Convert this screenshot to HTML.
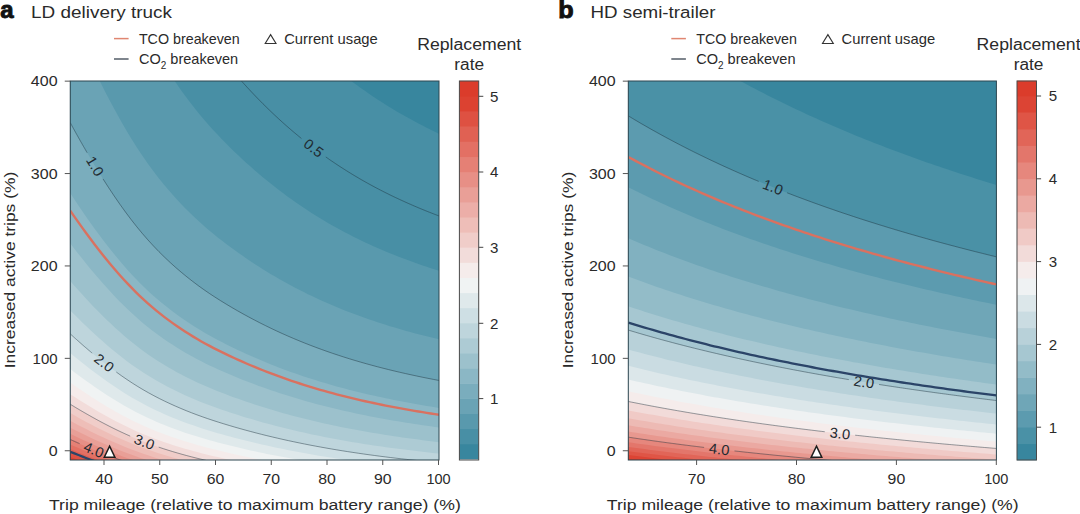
<!DOCTYPE html>
<html lang="en">
<head>
<meta charset="utf-8">
<title>Replacement rate</title>
<style>
html,body{margin:0;padding:0;background:#fff;}
body{width:1080px;height:514px;overflow:hidden;font-family:"Liberation Sans", sans-serif;}
svg{display:block;}
</style>
</head>
<body>
<svg width="1080" height="514" viewBox="0 0 1080 514" font-family='"Liberation Sans", sans-serif' shape-rendering="geometricPrecision">
<rect width="1080" height="514" fill="#fff"/>
<clipPath id="clipa"><rect x="70.25" y="81" width="368.75" height="379"/></clipPath>
<g clip-path="url(#clipa)">
<rect x="69.25" y="80" width="370.75" height="381" fill="#38869e"/>
<path d="M68.25 -510.72 L70.25 -510.72 L74.35 -492.06 L78.44 -473.68 L82.54 -455.61 L86.64 -437.86 L90.74 -420.42 L94.83 -403.33 L98.93 -386.58 L103.03 -370.2 L107.12 -354.19 L111.22 -338.57 L115.32 -323.34 L119.42 -308.53 L123.51 -294.13 L127.61 -280.17 L131.71 -266.66 L135.81 -253.61 L139.9 -241.03 L144 -228.91 L148.1 -217.24 L152.19 -205.99 L156.29 -195.16 L160.39 -184.71 L164.49 -174.64 L168.58 -164.91 L172.68 -155.52 L176.78 -146.45 L180.88 -137.67 L184.97 -129.17 L189.07 -120.94 L193.17 -112.97 L197.26 -105.26 L201.36 -97.79 L205.46 -90.57 L209.56 -83.58 L213.65 -76.81 L217.75 -70.22 L221.85 -63.81 L225.94 -57.55 L230.04 -51.42 L234.14 -45.41 L238.24 -39.53 L242.33 -33.77 L246.43 -28.13 L250.53 -22.6 L254.63 -17.2 L258.72 -11.9 L262.82 -6.72 L266.92 -1.66 L271.01 3.3 L275.11 8.15 L279.21 12.9 L283.31 17.54 L287.4 22.08 L291.5 26.51 L295.6 30.85 L299.69 35.09 L303.79 39.24 L307.89 43.29 L311.99 47.25 L316.08 51.12 L320.18 54.9 L324.28 58.59 L328.38 62.2 L332.47 65.72 L336.57 69.16 L340.67 72.52 L344.76 75.81 L348.86 79.02 L352.96 82.15 L357.06 85.21 L361.15 88.19 L365.25 91.11 L369.35 93.96 L373.44 96.75 L377.54 99.47 L381.64 102.12 L385.74 104.72 L389.83 107.25 L393.93 109.73 L398.03 112.16 L402.13 114.52 L406.22 116.84 L410.32 119.11 L414.42 121.32 L418.51 123.49 L422.61 125.62 L426.71 127.7 L430.81 129.73 L434.9 131.73 L439 133.69 L441 133.69 L441 462 L68.25 462Z" fill="#488fa5"/>
<path d="M68.25 -158.81 L70.25 -158.81 L74.35 -146.37 L78.44 -134.12 L82.54 -122.08 L86.64 -110.24 L90.74 -98.62 L94.83 -87.22 L98.93 -76.06 L103.03 -65.13 L107.12 -54.46 L111.22 -44.04 L115.32 -33.89 L119.42 -24.02 L123.51 -14.42 L127.61 -5.12 L131.71 3.89 L135.81 12.59 L139.9 20.98 L144 29.06 L148.1 36.84 L152.19 44.34 L156.29 51.56 L160.39 58.53 L164.49 65.24 L168.58 71.72 L172.68 77.98 L176.78 84.03 L180.88 89.88 L184.97 95.55 L189.07 101.04 L193.17 106.35 L197.26 111.49 L201.36 116.47 L205.46 121.28 L209.56 125.94 L213.65 130.46 L217.75 134.85 L221.85 139.13 L225.94 143.3 L230.04 147.39 L234.14 151.39 L238.24 155.31 L242.33 159.16 L246.43 162.92 L250.53 166.6 L254.63 170.2 L258.72 173.73 L262.82 177.18 L266.92 180.56 L271.01 183.87 L275.11 187.1 L279.21 190.26 L283.31 193.36 L287.4 196.38 L291.5 199.34 L295.6 202.23 L299.69 205.06 L303.79 207.82 L307.89 210.52 L311.99 213.16 L316.08 215.74 L320.18 218.26 L324.28 220.72 L328.38 223.13 L332.47 225.48 L336.57 227.77 L340.67 230.02 L344.76 232.2 L348.86 234.34 L352.96 236.43 L357.06 238.47 L361.15 240.46 L365.25 242.41 L369.35 244.31 L373.44 246.16 L377.54 247.98 L381.64 249.75 L385.74 251.48 L389.83 253.17 L393.93 254.82 L398.03 256.44 L402.13 258.02 L406.22 259.56 L410.32 261.07 L414.42 262.55 L418.51 263.99 L422.61 265.41 L426.71 266.8 L430.81 268.16 L434.9 269.49 L439 270.79 L441 270.79 L441 462 L68.25 462Z" fill="#5999ad"/>
<path d="M68.25 17.14 L70.25 17.14 L74.35 26.47 L78.44 35.66 L82.54 44.69 L86.64 53.57 L90.74 62.29 L94.83 70.84 L98.93 79.21 L103.03 87.4 L107.12 95.4 L111.22 103.22 L115.32 110.83 L119.42 118.24 L123.51 125.43 L127.61 132.41 L131.71 139.17 L135.81 145.69 L139.9 151.98 L144 158.04 L148.1 163.88 L152.19 169.5 L156.29 174.92 L160.39 180.14 L164.49 185.18 L168.58 190.04 L172.68 194.74 L176.78 199.27 L180.88 203.66 L184.97 207.91 L189.07 212.03 L193.17 216.01 L197.26 219.87 L201.36 223.6 L205.46 227.21 L209.56 230.71 L213.65 234.1 L217.75 237.39 L221.85 240.59 L225.94 243.73 L230.04 246.79 L234.14 249.79 L238.24 252.74 L242.33 255.62 L246.43 258.44 L250.53 261.2 L254.63 263.9 L258.72 266.55 L262.82 269.14 L266.92 271.67 L271.01 274.15 L275.11 276.58 L279.21 278.95 L283.31 281.27 L287.4 283.54 L291.5 285.76 L295.6 287.92 L299.69 290.05 L303.79 292.12 L307.89 294.14 L311.99 296.12 L316.08 298.06 L320.18 299.95 L324.28 301.79 L328.38 303.6 L332.47 305.36 L336.57 307.08 L340.67 308.76 L344.76 310.4 L348.86 312.01 L352.96 313.57 L357.06 315.1 L361.15 316.6 L365.25 318.06 L369.35 319.48 L373.44 320.87 L377.54 322.23 L381.64 323.56 L385.74 324.86 L389.83 326.13 L393.93 327.37 L398.03 328.58 L402.13 329.76 L406.22 330.92 L410.32 332.05 L414.42 333.16 L418.51 334.24 L422.61 335.31 L426.71 336.35 L430.81 337.37 L434.9 338.36 L439 339.34 L441 339.34 L441 462 L68.25 462Z" fill="#6aa3b5"/>
<path d="M68.25 122.71 L70.25 122.71 L74.35 130.18 L78.44 137.53 L82.54 144.75 L86.64 151.86 L90.74 158.83 L94.83 165.67 L98.93 172.37 L103.03 178.92 L107.12 185.32 L111.22 191.57 L115.32 197.66 L119.42 203.59 L123.51 209.35 L127.61 214.93 L131.71 220.33 L135.81 225.55 L139.9 230.59 L144 235.43 L148.1 240.1 L152.19 244.6 L156.29 248.94 L160.39 253.11 L164.49 257.14 L168.58 261.03 L172.68 264.79 L176.78 268.42 L180.88 271.93 L184.97 275.33 L189.07 278.62 L193.17 281.81 L197.26 284.9 L201.36 287.88 L205.46 290.77 L209.56 293.57 L213.65 296.28 L217.75 298.91 L221.85 301.48 L225.94 303.98 L230.04 306.43 L234.14 308.83 L238.24 311.19 L242.33 313.49 L246.43 315.75 L250.53 317.96 L254.63 320.12 L258.72 322.24 L262.82 324.31 L266.92 326.34 L271.01 328.32 L275.11 330.26 L279.21 332.16 L283.31 334.01 L287.4 335.83 L291.5 337.6 L295.6 339.34 L299.69 341.04 L303.79 342.69 L307.89 344.31 L311.99 345.9 L316.08 347.45 L320.18 348.96 L324.28 350.43 L328.38 351.88 L332.47 353.29 L336.57 354.66 L340.67 356.01 L344.76 357.32 L348.86 358.61 L352.96 359.86 L357.06 361.08 L361.15 362.28 L365.25 363.44 L369.35 364.58 L373.44 365.7 L377.54 366.79 L381.64 367.85 L385.74 368.89 L389.83 369.9 L393.93 370.89 L398.03 371.86 L402.13 372.81 L406.22 373.74 L410.32 374.64 L414.42 375.53 L418.51 376.4 L422.61 377.25 L426.71 378.08 L430.81 378.89 L434.9 379.69 L439 380.48 L441 380.48 L441 462 L68.25 462Z" fill="#7aadbd"/>
<path d="M68.25 193.09 L70.25 193.09 L74.35 199.31 L78.44 205.44 L82.54 211.46 L86.64 217.38 L90.74 223.19 L94.83 228.89 L98.93 234.47 L103.03 239.93 L107.12 245.27 L111.22 250.48 L115.32 255.55 L119.42 260.49 L123.51 265.29 L127.61 269.94 L131.71 274.44 L135.81 278.79 L139.9 282.99 L144 287.03 L148.1 290.92 L152.19 294.67 L156.29 298.28 L160.39 301.76 L164.49 305.12 L168.58 308.36 L172.68 311.49 L176.78 314.52 L180.88 317.44 L184.97 320.27 L189.07 323.02 L193.17 325.67 L197.26 328.25 L201.36 330.73 L205.46 333.14 L209.56 335.47 L213.65 337.73 L217.75 339.92 L221.85 342.06 L225.94 344.15 L230.04 346.19 L234.14 348.2 L238.24 350.16 L242.33 352.08 L246.43 353.96 L250.53 355.8 L254.63 357.6 L258.72 359.36 L262.82 361.09 L266.92 362.78 L271.01 364.43 L275.11 366.05 L279.21 367.63 L283.31 369.18 L287.4 370.69 L291.5 372.17 L295.6 373.62 L299.69 375.03 L303.79 376.41 L307.89 377.76 L311.99 379.08 L316.08 380.37 L320.18 381.63 L324.28 382.86 L328.38 384.06 L332.47 385.24 L336.57 386.39 L340.67 387.51 L344.76 388.6 L348.86 389.67 L352.96 390.71 L357.06 391.73 L361.15 392.73 L365.25 393.7 L369.35 394.65 L373.44 395.58 L377.54 396.49 L381.64 397.37 L385.74 398.24 L389.83 399.08 L393.93 399.91 L398.03 400.72 L402.13 401.51 L406.22 402.28 L410.32 403.03 L414.42 403.77 L418.51 404.5 L422.61 405.2 L426.71 405.9 L430.81 406.58 L434.9 407.24 L439 407.9 L441 407.9 L441 462 L68.25 462Z" fill="#8bb7c5"/>
<path d="M68.25 243.36 L70.25 243.36 L74.35 248.7 L78.44 253.95 L82.54 259.11 L86.64 264.18 L90.74 269.16 L94.83 274.05 L98.93 278.83 L103.03 283.51 L107.12 288.09 L111.22 292.55 L115.32 296.9 L119.42 301.13 L123.51 305.25 L127.61 309.23 L131.71 313.09 L135.81 316.82 L139.9 320.42 L144 323.88 L148.1 327.22 L152.19 330.43 L156.29 333.52 L160.39 336.51 L164.49 339.39 L168.58 342.17 L172.68 344.85 L176.78 347.44 L180.88 349.95 L184.97 352.38 L189.07 354.73 L193.17 357.01 L197.26 359.21 L201.36 361.34 L205.46 363.41 L209.56 365.4 L213.65 367.34 L217.75 369.22 L221.85 371.05 L225.94 372.84 L230.04 374.59 L234.14 376.31 L238.24 377.99 L242.33 379.64 L246.43 381.25 L250.53 382.83 L254.63 384.37 L258.72 385.88 L262.82 387.36 L266.92 388.81 L271.01 390.23 L275.11 391.61 L279.21 392.97 L283.31 394.3 L287.4 395.59 L291.5 396.86 L295.6 398.1 L299.69 399.31 L303.79 400.49 L307.89 401.65 L311.99 402.78 L316.08 403.89 L320.18 404.97 L324.28 406.02 L328.38 407.05 L332.47 408.06 L336.57 409.04 L340.67 410.01 L344.76 410.94 L348.86 411.86 L352.96 412.76 L357.06 413.63 L361.15 414.48 L365.25 415.32 L369.35 416.13 L373.44 416.93 L377.54 417.7 L381.64 418.46 L385.74 419.2 L389.83 419.93 L393.93 420.64 L398.03 421.33 L402.13 422.01 L406.22 422.67 L410.32 423.31 L414.42 423.95 L418.51 424.57 L422.61 425.17 L426.71 425.77 L430.81 426.35 L434.9 426.92 L439 427.48 L441 427.48 L441 462 L68.25 462Z" fill="#9cc1cc"/>
<path d="M68.25 281.07 L70.25 281.07 L74.35 285.73 L78.44 290.33 L82.54 294.85 L86.64 299.28 L90.74 303.64 L94.83 307.92 L98.93 312.1 L103.03 316.2 L107.12 320.2 L111.22 324.11 L115.32 327.91 L119.42 331.62 L123.51 335.22 L127.61 338.7 L131.71 342.08 L135.81 345.35 L139.9 348.49 L144 351.52 L148.1 354.44 L152.19 357.25 L156.29 359.96 L160.39 362.57 L164.49 365.09 L168.58 367.52 L172.68 369.87 L176.78 372.14 L180.88 374.33 L184.97 376.46 L189.07 378.51 L193.17 380.51 L197.26 382.43 L201.36 384.3 L205.46 386.11 L209.56 387.85 L213.65 389.55 L217.75 391.19 L221.85 392.8 L225.94 394.36 L230.04 395.89 L234.14 397.4 L238.24 398.87 L242.33 400.31 L246.43 401.72 L250.53 403.1 L254.63 404.45 L258.72 405.77 L262.82 407.07 L266.92 408.33 L271.01 409.57 L275.11 410.79 L279.21 411.97 L283.31 413.13 L287.4 414.27 L291.5 415.38 L295.6 416.46 L299.69 417.52 L303.79 418.56 L307.89 419.57 L311.99 420.56 L316.08 421.53 L320.18 422.47 L324.28 423.4 L328.38 424.3 L332.47 425.18 L336.57 426.04 L340.67 426.88 L344.76 427.7 L348.86 428.5 L352.96 429.29 L357.06 430.05 L361.15 430.8 L365.25 431.53 L369.35 432.24 L373.44 432.94 L377.54 433.62 L381.64 434.28 L385.74 434.93 L389.83 435.56 L393.93 436.18 L398.03 436.79 L402.13 437.38 L406.22 437.96 L410.32 438.52 L414.42 439.08 L418.51 439.62 L422.61 440.15 L426.71 440.67 L430.81 441.18 L434.9 441.68 L439 442.17 L441 442.17 L441 462 L68.25 462Z" fill="#adcbd4"/>
<path d="M68.25 310.39 L70.25 310.39 L74.35 314.54 L78.44 318.62 L82.54 322.64 L86.64 326.59 L90.74 330.46 L94.83 334.26 L98.93 337.98 L103.03 341.62 L107.12 345.18 L111.22 348.65 L115.32 352.03 L119.42 355.33 L123.51 358.52 L127.61 361.63 L131.71 364.63 L135.81 367.53 L139.9 370.33 L144 373.02 L148.1 375.61 L152.19 378.11 L156.29 380.52 L160.39 382.84 L164.49 385.08 L168.58 387.24 L172.68 389.33 L176.78 391.34 L180.88 393.29 L184.97 395.18 L189.07 397.01 L193.17 398.78 L197.26 400.5 L201.36 402.16 L205.46 403.76 L209.56 405.31 L213.65 406.82 L217.75 408.28 L221.85 409.71 L225.94 411.1 L230.04 412.46 L234.14 413.8 L238.24 415.1 L242.33 416.38 L246.43 417.64 L250.53 418.86 L254.63 420.07 L258.72 421.24 L262.82 422.39 L266.92 423.52 L271.01 424.62 L275.11 425.7 L279.21 426.75 L283.31 427.78 L287.4 428.79 L291.5 429.78 L295.6 430.74 L299.69 431.69 L303.79 432.61 L307.89 433.51 L311.99 434.39 L316.08 435.25 L320.18 436.09 L324.28 436.91 L328.38 437.71 L332.47 438.49 L336.57 439.26 L340.67 440 L344.76 440.73 L348.86 441.45 L352.96 442.14 L357.06 442.82 L361.15 443.49 L365.25 444.13 L369.35 444.77 L373.44 445.39 L377.54 445.99 L381.64 446.58 L385.74 447.16 L389.83 447.72 L393.93 448.27 L398.03 448.81 L402.13 449.34 L406.22 449.85 L410.32 450.36 L414.42 450.85 L418.51 451.33 L422.61 451.8 L426.71 452.26 L430.81 452.72 L434.9 453.16 L439 453.6 L441 453.6 L441 462 L68.25 462Z" fill="#bed5dc"/>
<path d="M68.25 333.85 L70.25 333.85 L74.35 337.59 L78.44 341.26 L82.54 344.88 L86.64 348.43 L90.74 351.91 L94.83 355.33 L98.93 358.68 L103.03 361.96 L107.12 365.16 L111.22 368.29 L115.32 371.33 L119.42 374.29 L123.51 377.17 L127.61 379.96 L131.71 382.67 L135.81 385.28 L139.9 387.79 L144 390.22 L148.1 392.55 L152.19 394.8 L156.29 396.97 L160.39 399.06 L164.49 401.07 L168.58 403.02 L172.68 404.89 L176.78 406.71 L180.88 408.46 L184.97 410.16 L189.07 411.81 L193.17 413.4 L197.26 414.95 L201.36 416.44 L205.46 417.88 L209.56 419.28 L213.65 420.64 L217.75 421.95 L221.85 423.24 L225.94 424.49 L230.04 425.72 L234.14 426.92 L238.24 428.09 L242.33 429.25 L246.43 430.37 L250.53 431.48 L254.63 432.56 L258.72 433.62 L262.82 434.65 L266.92 435.67 L271.01 436.66 L275.11 437.63 L279.21 438.58 L283.31 439.51 L287.4 440.41 L291.5 441.3 L295.6 442.17 L299.69 443.02 L303.79 443.85 L307.89 444.66 L311.99 445.45 L316.08 446.22 L320.18 446.98 L324.28 447.72 L328.38 448.44 L332.47 449.14 L336.57 449.83 L340.67 450.5 L344.76 451.16 L348.86 451.8 L352.96 452.43 L357.06 453.04 L361.15 453.64 L365.25 454.22 L369.35 454.79 L373.44 455.35 L377.54 455.89 L381.64 456.42 L385.74 456.94 L389.83 457.45 L393.93 457.95 L398.03 458.43 L402.13 458.9 L406.22 459.37 L410.32 459.82 L414.42 460.26 L418.51 460.7 L422.61 461.12 L426.71 461.54 L430.81 461.95 L434.9 462.34 L439 462.74 L441 462.74 L441 462 L68.25 462Z" fill="#cedfe4"/>
<path d="M68.25 353.05 L70.25 353.05 L74.35 356.44 L78.44 359.78 L82.54 363.07 L86.64 366.3 L90.74 369.47 L94.83 372.58 L98.93 375.62 L103.03 378.6 L107.12 381.51 L111.22 384.35 L115.32 387.12 L119.42 389.81 L123.51 392.43 L127.61 394.97 L131.71 397.42 L135.81 399.8 L139.9 402.08 L144 404.29 L148.1 406.41 L152.19 408.45 L156.29 410.42 L160.39 412.32 L164.49 414.16 L168.58 415.92 L172.68 417.63 L176.78 419.28 L180.88 420.88 L184.97 422.42 L189.07 423.92 L193.17 425.37 L197.26 426.77 L201.36 428.13 L205.46 429.44 L209.56 430.71 L213.65 431.94 L217.75 433.14 L221.85 434.31 L225.94 435.44 L230.04 436.56 L234.14 437.65 L238.24 438.72 L242.33 439.77 L246.43 440.79 L250.53 441.8 L254.63 442.78 L258.72 443.74 L262.82 444.68 L266.92 445.61 L271.01 446.51 L275.11 447.39 L279.21 448.25 L283.31 449.1 L287.4 449.92 L291.5 450.73 L295.6 451.52 L299.69 452.29 L303.79 453.04 L307.89 453.78 L311.99 454.5 L316.08 455.2 L320.18 455.89 L324.28 456.56 L328.38 457.22 L332.47 457.86 L336.57 458.48 L340.67 459.09 L344.76 459.69 L348.86 460.27 L352.96 460.84 L357.06 461.4 L361.15 461.94 L365.25 462.47 L369.35 462.99 L373.44 463.5 L377.54 463.99 L381.64 464.48 L385.74 464.95 L389.83 465.41 L393.93 465.86 L398.03 466.3 L402.13 466.73 L406.22 467.15 L410.32 467.56 L414.42 467.97 L418.51 468.36 L422.61 468.75 L426.71 469.12 L430.81 469.5 L434.9 469.86 L439 470.21 L441 470.21 L441 462 L68.25 462Z" fill="#dfe9eb"/>
<path d="M68.25 369.05 L70.25 369.05 L74.35 372.16 L78.44 375.22 L82.54 378.23 L86.64 381.19 L90.74 384.09 L94.83 386.94 L98.93 389.73 L103.03 392.47 L107.12 395.13 L111.22 397.74 L115.32 400.27 L119.42 402.74 L123.51 405.14 L127.61 407.47 L131.71 409.72 L135.81 411.9 L139.9 413.99 L144 416.01 L148.1 417.96 L152.19 419.83 L156.29 421.64 L160.39 423.38 L164.49 425.06 L168.58 426.68 L172.68 428.24 L176.78 429.76 L180.88 431.22 L184.97 432.64 L189.07 434.01 L193.17 435.34 L197.26 436.62 L201.36 437.87 L205.46 439.07 L209.56 440.23 L213.65 441.36 L217.75 442.46 L221.85 443.53 L225.94 444.57 L230.04 445.6 L234.14 446.6 L238.24 447.58 L242.33 448.54 L246.43 449.48 L250.53 450.4 L254.63 451.3 L258.72 452.18 L262.82 453.04 L266.92 453.89 L271.01 454.72 L275.11 455.52 L279.21 456.31 L283.31 457.09 L287.4 457.84 L291.5 458.58 L295.6 459.31 L299.69 460.01 L303.79 460.7 L307.89 461.38 L311.99 462.04 L316.08 462.68 L320.18 463.31 L324.28 463.93 L328.38 464.53 L332.47 465.12 L336.57 465.69 L340.67 466.25 L344.76 466.8 L348.86 467.33 L352.96 467.86 L357.06 468.37 L361.15 468.86 L365.25 469.35 L369.35 469.83 L373.44 470.29 L377.54 470.74 L381.64 471.19 L385.74 471.62 L389.83 472.04 L393.93 472.45 L398.03 472.86 L402.13 473.25 L406.22 473.64 L410.32 474.02 L414.42 474.39 L418.51 474.75 L422.61 475.1 L426.71 475.45 L430.81 475.79 L434.9 476.12 L439 476.45 L441 476.45 L441 462 L68.25 462Z" fill="#f0f3f3"/>
<path d="M68.25 382.58 L70.25 382.58 L74.35 385.45 L78.44 388.28 L82.54 391.06 L86.64 393.79 L90.74 396.47 L94.83 399.1 L98.93 401.68 L103.03 404.2 L107.12 406.66 L111.22 409.07 L115.32 411.41 L119.42 413.69 L123.51 415.9 L127.61 418.05 L131.71 420.13 L135.81 422.14 L139.9 424.07 L144 425.94 L148.1 427.73 L152.19 429.46 L156.29 431.13 L160.39 432.74 L164.49 434.29 L168.58 435.78 L172.68 437.23 L176.78 438.62 L180.88 439.97 L184.97 441.28 L189.07 442.55 L193.17 443.77 L197.26 444.96 L201.36 446.11 L205.46 447.22 L209.56 448.29 L213.65 449.34 L217.75 450.35 L221.85 451.34 L225.94 452.3 L230.04 453.24 L234.14 454.17 L238.24 455.07 L242.33 455.96 L246.43 456.83 L250.53 457.67 L254.63 458.51 L258.72 459.32 L262.82 460.12 L266.92 460.9 L271.01 461.66 L275.11 462.41 L279.21 463.14 L283.31 463.85 L287.4 464.55 L291.5 465.23 L295.6 465.9 L299.69 466.55 L303.79 467.19 L307.89 467.81 L311.99 468.42 L316.08 469.02 L320.18 469.6 L324.28 470.17 L328.38 470.72 L332.47 471.26 L336.57 471.79 L340.67 472.31 L344.76 472.81 L348.86 473.31 L352.96 473.79 L357.06 474.26 L361.15 474.72 L365.25 475.17 L369.35 475.61 L373.44 476.04 L377.54 476.45 L381.64 476.86 L385.74 477.26 L389.83 477.65 L393.93 478.03 L398.03 478.41 L402.13 478.77 L406.22 479.13 L410.32 479.48 L414.42 479.82 L418.51 480.15 L422.61 480.48 L426.71 480.8 L430.81 481.11 L434.9 481.42 L439 481.72 L441 481.72 L441 462 L68.25 462Z" fill="#f5eceb"/>
<path d="M68.25 394.18 L70.25 394.18 L74.35 396.85 L78.44 399.47 L82.54 402.05 L86.64 404.59 L90.74 407.08 L94.83 409.52 L98.93 411.92 L103.03 414.26 L107.12 416.54 L111.22 418.77 L115.32 420.95 L119.42 423.07 L123.51 425.12 L127.61 427.12 L131.71 429.05 L135.81 430.91 L139.9 432.71 L144 434.44 L148.1 436.11 L152.19 437.71 L156.29 439.26 L160.39 440.75 L164.49 442.19 L168.58 443.58 L172.68 444.92 L176.78 446.22 L180.88 447.47 L184.97 448.69 L189.07 449.86 L193.17 451 L197.26 452.1 L201.36 453.17 L205.46 454.2 L209.56 455.2 L213.65 456.17 L217.75 457.11 L221.85 458.03 L225.94 458.92 L230.04 459.8 L234.14 460.65 L238.24 461.49 L242.33 462.32 L246.43 463.12 L250.53 463.91 L254.63 464.68 L258.72 465.44 L262.82 466.18 L266.92 466.9 L271.01 467.61 L275.11 468.31 L279.21 468.98 L283.31 469.65 L287.4 470.29 L291.5 470.93 L295.6 471.55 L299.69 472.15 L303.79 472.75 L307.89 473.33 L311.99 473.89 L316.08 474.44 L320.18 474.98 L324.28 475.51 L328.38 476.03 L332.47 476.53 L336.57 477.02 L340.67 477.5 L344.76 477.97 L348.86 478.43 L352.96 478.88 L357.06 479.31 L361.15 479.74 L365.25 480.16 L369.35 480.56 L373.44 480.96 L377.54 481.35 L381.64 481.73 L385.74 482.1 L389.83 482.46 L393.93 482.82 L398.03 483.16 L402.13 483.5 L406.22 483.83 L410.32 484.16 L414.42 484.47 L418.51 484.78 L422.61 485.09 L426.71 485.38 L430.81 485.67 L434.9 485.96 L439 486.24 L441 486.24 L441 462 L68.25 462Z" fill="#f2dcda"/>
<path d="M68.25 404.24 L70.25 404.24 L74.35 406.72 L78.44 409.17 L82.54 411.58 L86.64 413.95 L90.74 416.28 L94.83 418.55 L98.93 420.79 L103.03 422.97 L107.12 425.11 L111.22 427.19 L115.32 429.22 L119.42 431.19 L123.51 433.11 L127.61 434.97 L131.71 436.78 L135.81 438.52 L139.9 440.19 L144 441.81 L148.1 443.37 L152.19 444.87 L156.29 446.31 L160.39 447.7 L164.49 449.05 L168.58 450.34 L172.68 451.6 L176.78 452.8 L180.88 453.98 L184.97 455.11 L189.07 456.21 L193.17 457.27 L197.26 458.3 L201.36 459.29 L205.46 460.26 L209.56 461.19 L213.65 462.09 L217.75 462.97 L221.85 463.82 L225.94 464.66 L230.04 465.48 L234.14 466.28 L238.24 467.06 L242.33 467.83 L246.43 468.58 L250.53 469.32 L254.63 470.04 L258.72 470.74 L262.82 471.44 L266.92 472.11 L271.01 472.77 L275.11 473.42 L279.21 474.05 L283.31 474.67 L287.4 475.28 L291.5 475.87 L295.6 476.45 L299.69 477.01 L303.79 477.56 L307.89 478.1 L311.99 478.63 L316.08 479.15 L320.18 479.65 L324.28 480.14 L328.38 480.62 L332.47 481.09 L336.57 481.55 L340.67 482 L344.76 482.44 L348.86 482.87 L352.96 483.28 L357.06 483.69 L361.15 484.09 L365.25 484.48 L369.35 484.86 L373.44 485.23 L377.54 485.59 L381.64 485.95 L385.74 486.29 L389.83 486.63 L393.93 486.96 L398.03 487.29 L402.13 487.6 L406.22 487.91 L410.32 488.21 L414.42 488.51 L418.51 488.8 L422.61 489.08 L426.71 489.36 L430.81 489.63 L434.9 489.9 L439 490.16 L441 490.16 L441 462 L68.25 462Z" fill="#f0cdc9"/>
<path d="M68.25 413.03 L70.25 413.03 L74.35 415.37 L78.44 417.66 L82.54 419.92 L86.64 422.14 L90.74 424.32 L94.83 426.46 L98.93 428.55 L103.03 430.6 L107.12 432.6 L111.22 434.55 L115.32 436.46 L119.42 438.31 L123.51 440.11 L127.61 441.85 L131.71 443.54 L135.81 445.17 L139.9 446.74 L144 448.26 L148.1 449.72 L152.19 451.12 L156.29 452.48 L160.39 453.78 L164.49 455.04 L168.58 456.26 L172.68 457.43 L176.78 458.57 L180.88 459.66 L184.97 460.73 L189.07 461.76 L193.17 462.75 L197.26 463.72 L201.36 464.65 L205.46 465.55 L209.56 466.43 L213.65 467.27 L217.75 468.1 L221.85 468.9 L225.94 469.68 L230.04 470.45 L234.14 471.2 L238.24 471.93 L242.33 472.65 L246.43 473.36 L250.53 474.05 L254.63 474.72 L258.72 475.39 L262.82 476.03 L266.92 476.67 L271.01 477.29 L275.11 477.89 L279.21 478.49 L283.31 479.07 L287.4 479.63 L291.5 480.19 L295.6 480.73 L299.69 481.26 L303.79 481.78 L307.89 482.28 L311.99 482.78 L316.08 483.26 L320.18 483.74 L324.28 484.2 L328.38 484.65 L332.47 485.09 L336.57 485.52 L340.67 485.94 L344.76 486.35 L348.86 486.75 L352.96 487.14 L357.06 487.52 L361.15 487.9 L365.25 488.26 L369.35 488.62 L373.44 488.97 L377.54 489.31 L381.64 489.64 L385.74 489.96 L389.83 490.28 L393.93 490.59 L398.03 490.89 L402.13 491.19 L406.22 491.48 L410.32 491.76 L414.42 492.04 L418.51 492.31 L422.61 492.58 L426.71 492.84 L430.81 493.09 L434.9 493.34 L439 493.58 L441 493.58 L441 462 L68.25 462Z" fill="#eebeb8"/>
<path d="M68.25 420.8 L70.25 420.8 L74.35 422.99 L78.44 425.15 L82.54 427.28 L86.64 429.37 L90.74 431.42 L94.83 433.43 L98.93 435.4 L103.03 437.33 L107.12 439.21 L111.22 441.05 L115.32 442.84 L119.42 444.58 L123.51 446.28 L127.61 447.92 L131.71 449.51 L135.81 451.04 L139.9 452.52 L144 453.95 L148.1 455.32 L152.19 456.65 L156.29 457.92 L160.39 459.15 L164.49 460.34 L168.58 461.48 L172.68 462.58 L176.78 463.65 L180.88 464.68 L184.97 465.68 L189.07 466.65 L193.17 467.59 L197.26 468.5 L201.36 469.38 L205.46 470.22 L209.56 471.05 L213.65 471.84 L217.75 472.62 L221.85 473.37 L225.94 474.11 L230.04 474.83 L234.14 475.54 L238.24 476.23 L242.33 476.91 L246.43 477.57 L250.53 478.22 L254.63 478.86 L258.72 479.48 L262.82 480.09 L266.92 480.69 L271.01 481.27 L275.11 481.84 L279.21 482.4 L283.31 482.94 L287.4 483.48 L291.5 484 L295.6 484.51 L299.69 485.01 L303.79 485.5 L307.89 485.97 L311.99 486.44 L316.08 486.89 L320.18 487.34 L324.28 487.77 L328.38 488.2 L332.47 488.61 L336.57 489.02 L340.67 489.41 L344.76 489.8 L348.86 490.18 L352.96 490.55 L357.06 490.9 L361.15 491.26 L365.25 491.6 L369.35 491.94 L373.44 492.26 L377.54 492.58 L381.64 492.9 L385.74 493.2 L389.83 493.5 L393.93 493.79 L398.03 494.08 L402.13 494.35 L406.22 494.63 L410.32 494.89 L414.42 495.15 L418.51 495.41 L422.61 495.66 L426.71 495.9 L430.81 496.14 L434.9 496.38 L439 496.61 L441 496.61 L441 462 L68.25 462Z" fill="#ecaea8"/>
<path d="M68.25 427.7 L70.25 427.7 L74.35 429.77 L78.44 431.81 L82.54 433.82 L86.64 435.79 L90.74 437.73 L94.83 439.63 L98.93 441.49 L103.03 443.31 L107.12 445.09 L111.22 446.82 L115.32 448.52 L119.42 450.16 L123.51 451.76 L127.61 453.31 L131.71 454.81 L135.81 456.26 L139.9 457.66 L144 459.01 L148.1 460.31 L152.19 461.55 L156.29 462.76 L160.39 463.92 L164.49 465.04 L168.58 466.12 L172.68 467.16 L176.78 468.17 L180.88 469.15 L184.97 470.09 L189.07 471 L193.17 471.89 L197.26 472.75 L201.36 473.58 L205.46 474.38 L209.56 475.16 L213.65 475.91 L217.75 476.64 L221.85 477.35 L225.94 478.05 L230.04 478.73 L234.14 479.4 L238.24 480.05 L242.33 480.69 L246.43 481.32 L250.53 481.93 L254.63 482.53 L258.72 483.12 L262.82 483.7 L266.92 484.26 L271.01 484.81 L275.11 485.35 L279.21 485.88 L283.31 486.39 L287.4 486.9 L291.5 487.39 L295.6 487.87 L299.69 488.34 L303.79 488.8 L307.89 489.25 L311.99 489.69 L316.08 490.12 L320.18 490.54 L324.28 490.95 L328.38 491.35 L332.47 491.74 L336.57 492.13 L340.67 492.5 L344.76 492.87 L348.86 493.22 L352.96 493.57 L357.06 493.91 L361.15 494.24 L365.25 494.57 L369.35 494.88 L373.44 495.19 L377.54 495.49 L381.64 495.79 L385.74 496.08 L389.83 496.36 L393.93 496.64 L398.03 496.9 L402.13 497.17 L406.22 497.42 L410.32 497.68 L414.42 497.92 L418.51 498.16 L422.61 498.4 L426.71 498.63 L430.81 498.86 L434.9 499.08 L439 499.3 L441 499.3 L441 462 L68.25 462Z" fill="#e99f97"/>
<path d="M68.25 433.87 L70.25 433.87 L74.35 435.83 L78.44 437.77 L82.54 439.67 L86.64 441.54 L90.74 443.37 L94.83 445.17 L98.93 446.94 L103.03 448.66 L107.12 450.35 L111.22 451.99 L115.32 453.59 L119.42 455.15 L123.51 456.67 L127.61 458.14 L131.71 459.56 L135.81 460.93 L139.9 462.26 L144 463.53 L148.1 464.76 L152.19 465.95 L156.29 467.09 L160.39 468.19 L164.49 469.25 L168.58 470.27 L172.68 471.26 L176.78 472.21 L180.88 473.14 L184.97 474.03 L189.07 474.9 L193.17 475.74 L197.26 476.55 L201.36 477.34 L205.46 478.1 L209.56 478.83 L213.65 479.54 L217.75 480.24 L221.85 480.91 L225.94 481.57 L230.04 482.22 L234.14 482.85 L238.24 483.47 L242.33 484.08 L246.43 484.67 L250.53 485.25 L254.63 485.82 L258.72 486.38 L262.82 486.92 L266.92 487.46 L271.01 487.98 L275.11 488.49 L279.21 488.99 L283.31 489.48 L287.4 489.95 L291.5 490.42 L295.6 490.88 L299.69 491.32 L303.79 491.76 L307.89 492.19 L311.99 492.6 L316.08 493.01 L320.18 493.41 L324.28 493.8 L328.38 494.18 L332.47 494.55 L336.57 494.91 L340.67 495.26 L344.76 495.61 L348.86 495.95 L352.96 496.28 L357.06 496.6 L361.15 496.91 L365.25 497.22 L369.35 497.52 L373.44 497.81 L377.54 498.1 L381.64 498.38 L385.74 498.65 L389.83 498.92 L393.93 499.18 L398.03 499.44 L402.13 499.68 L406.22 499.93 L410.32 500.17 L414.42 500.4 L418.51 500.63 L422.61 500.85 L426.71 501.07 L430.81 501.29 L434.9 501.5 L439 501.7 L441 501.7 L441 462 L68.25 462Z" fill="#e78f86"/>
<path d="M68.25 439.43 L70.25 439.43 L74.35 441.29 L78.44 443.13 L82.54 444.94 L86.64 446.71 L90.74 448.46 L94.83 450.17 L98.93 451.84 L103.03 453.48 L107.12 455.08 L111.22 456.64 L115.32 458.16 L119.42 459.65 L123.51 461.08 L127.61 462.48 L131.71 463.83 L135.81 465.14 L139.9 466.4 L144 467.61 L148.1 468.77 L152.19 469.9 L156.29 470.98 L160.39 472.03 L164.49 473.03 L168.58 474.01 L172.68 474.95 L176.78 475.85 L180.88 476.73 L184.97 477.58 L189.07 478.4 L193.17 479.2 L197.26 479.97 L201.36 480.72 L205.46 481.44 L209.56 482.14 L213.65 482.82 L217.75 483.48 L221.85 484.12 L225.94 484.74 L230.04 485.36 L234.14 485.96 L238.24 486.55 L242.33 487.12 L246.43 487.69 L250.53 488.24 L254.63 488.78 L258.72 489.31 L262.82 489.83 L266.92 490.33 L271.01 490.83 L275.11 491.31 L279.21 491.79 L283.31 492.25 L287.4 492.71 L291.5 493.15 L295.6 493.58 L299.69 494.01 L303.79 494.42 L307.89 494.83 L311.99 495.22 L316.08 495.61 L320.18 495.99 L324.28 496.36 L328.38 496.72 L332.47 497.07 L336.57 497.41 L340.67 497.75 L344.76 498.08 L348.86 498.4 L352.96 498.71 L357.06 499.02 L361.15 499.32 L365.25 499.61 L369.35 499.89 L373.44 500.17 L377.54 500.44 L381.64 500.71 L385.74 500.97 L389.83 501.22 L393.93 501.47 L398.03 501.71 L402.13 501.95 L406.22 502.18 L410.32 502.41 L414.42 502.63 L418.51 502.85 L422.61 503.06 L426.71 503.27 L430.81 503.47 L434.9 503.67 L439 503.87 L441 503.87 L441 462 L68.25 462Z" fill="#e58075"/>
<path d="M68.25 444.45 L70.25 444.45 L74.35 446.23 L78.44 447.98 L82.54 449.7 L86.64 451.39 L90.74 453.05 L94.83 454.68 L98.93 456.28 L103.03 457.84 L107.12 459.36 L111.22 460.85 L115.32 462.3 L119.42 463.71 L123.51 465.08 L127.61 466.41 L131.71 467.7 L135.81 468.94 L139.9 470.14 L144 471.29 L148.1 472.4 L152.19 473.47 L156.29 474.51 L160.39 475.5 L164.49 476.46 L168.58 477.39 L172.68 478.28 L176.78 479.15 L180.88 479.98 L184.97 480.79 L189.07 481.58 L193.17 482.33 L197.26 483.07 L201.36 483.78 L205.46 484.47 L209.56 485.13 L213.65 485.78 L217.75 486.41 L221.85 487.02 L225.94 487.61 L230.04 488.2 L234.14 488.77 L238.24 489.33 L242.33 489.88 L246.43 490.41 L250.53 490.94 L254.63 491.46 L258.72 491.96 L262.82 492.45 L266.92 492.94 L271.01 493.41 L275.11 493.87 L279.21 494.32 L283.31 494.76 L287.4 495.2 L291.5 495.62 L295.6 496.03 L299.69 496.44 L303.79 496.83 L307.89 497.22 L311.99 497.59 L316.08 497.96 L320.18 498.32 L324.28 498.67 L328.38 499.02 L332.47 499.35 L336.57 499.68 L340.67 500 L344.76 500.31 L348.86 500.62 L352.96 500.92 L357.06 501.21 L361.15 501.49 L365.25 501.77 L369.35 502.04 L373.44 502.31 L377.54 502.57 L381.64 502.82 L385.74 503.07 L389.83 503.31 L393.93 503.54 L398.03 503.77 L402.13 504 L406.22 504.22 L410.32 504.44 L414.42 504.65 L418.51 504.85 L422.61 505.06 L426.71 505.25 L430.81 505.45 L434.9 505.64 L439 505.83 L441 505.83 L441 462 L68.25 462Z" fill="#e37064"/>
<path d="M68.25 449.02 L70.25 449.02 L74.35 450.72 L78.44 452.39 L82.54 454.03 L86.64 455.65 L90.74 457.23 L94.83 458.79 L98.93 460.31 L103.03 461.8 L107.12 463.25 L111.22 464.67 L115.32 466.06 L119.42 467.4 L123.51 468.71 L127.61 469.98 L131.71 471.21 L135.81 472.4 L139.9 473.54 L144 474.64 L148.1 475.7 L152.19 476.73 L156.29 477.71 L160.39 478.66 L164.49 479.58 L168.58 480.46 L172.68 481.31 L176.78 482.14 L180.88 482.94 L184.97 483.71 L189.07 484.46 L193.17 485.18 L197.26 485.88 L201.36 486.56 L205.46 487.22 L209.56 487.85 L213.65 488.47 L217.75 489.07 L221.85 489.65 L225.94 490.22 L230.04 490.78 L234.14 491.32 L238.24 491.86 L242.33 492.38 L246.43 492.9 L250.53 493.4 L254.63 493.89 L258.72 494.37 L262.82 494.84 L266.92 495.3 L271.01 495.75 L275.11 496.19 L279.21 496.63 L283.31 497.05 L287.4 497.46 L291.5 497.86 L295.6 498.26 L299.69 498.64 L303.79 499.02 L307.89 499.39 L311.99 499.75 L316.08 500.1 L320.18 500.44 L324.28 500.78 L328.38 501.11 L332.47 501.43 L336.57 501.74 L340.67 502.05 L344.76 502.34 L348.86 502.64 L352.96 502.92 L357.06 503.2 L361.15 503.47 L365.25 503.74 L369.35 503.99 L373.44 504.25 L377.54 504.5 L381.64 504.74 L385.74 504.97 L389.83 505.2 L393.93 505.43 L398.03 505.65 L402.13 505.86 L406.22 506.07 L410.32 506.28 L414.42 506.48 L418.51 506.68 L422.61 506.87 L426.71 507.06 L430.81 507.25 L434.9 507.43 L439 507.61 L441 507.61 L441 462 L68.25 462Z" fill="#e06153"/>
<path d="M68.25 453.2 L70.25 453.2 L74.35 454.82 L78.44 456.42 L82.54 457.99 L86.64 459.53 L90.74 461.05 L94.83 462.53 L98.93 463.99 L103.03 465.42 L107.12 466.81 L111.22 468.17 L115.32 469.49 L119.42 470.78 L123.51 472.03 L127.61 473.24 L131.71 474.42 L135.81 475.55 L139.9 476.65 L144 477.7 L148.1 478.72 L152.19 479.69 L156.29 480.64 L160.39 481.55 L164.49 482.42 L168.58 483.27 L172.68 484.08 L176.78 484.87 L180.88 485.64 L184.97 486.37 L189.07 487.09 L193.17 487.78 L197.26 488.45 L201.36 489.1 L205.46 489.73 L209.56 490.34 L213.65 490.93 L217.75 491.5 L221.85 492.06 L225.94 492.6 L230.04 493.14 L234.14 493.66 L238.24 494.17 L242.33 494.67 L246.43 495.16 L250.53 495.64 L254.63 496.11 L258.72 496.57 L262.82 497.02 L266.92 497.46 L271.01 497.89 L275.11 498.32 L279.21 498.73 L283.31 499.13 L287.4 499.53 L291.5 499.91 L295.6 500.29 L299.69 500.66 L303.79 501.02 L307.89 501.37 L311.99 501.72 L316.08 502.05 L320.18 502.38 L324.28 502.7 L328.38 503.02 L332.47 503.32 L336.57 503.62 L340.67 503.91 L344.76 504.2 L348.86 504.48 L352.96 504.75 L357.06 505.02 L361.15 505.28 L365.25 505.53 L369.35 505.78 L373.44 506.02 L377.54 506.26 L381.64 506.49 L385.74 506.71 L389.83 506.93 L393.93 507.15 L398.03 507.36 L402.13 507.57 L406.22 507.77 L410.32 507.96 L414.42 508.16 L418.51 508.35 L422.61 508.53 L426.71 508.71 L430.81 508.89 L434.9 509.06 L439 509.23 L441 509.23 L441 462 L68.25 462Z" fill="#de5142"/>
<path d="M68.25 457.02 L70.25 457.02 L74.35 458.58 L78.44 460.11 L82.54 461.61 L86.64 463.09 L90.74 464.55 L94.83 465.97 L98.93 467.37 L103.03 468.73 L107.12 470.07 L111.22 471.37 L115.32 472.64 L119.42 473.87 L123.51 475.07 L127.61 476.23 L131.71 477.36 L135.81 478.45 L139.9 479.5 L144 480.51 L148.1 481.48 L152.19 482.42 L156.29 483.32 L160.39 484.19 L164.49 485.03 L168.58 485.84 L172.68 486.62 L176.78 487.38 L180.88 488.11 L184.97 488.82 L189.07 489.5 L193.17 490.17 L197.26 490.81 L201.36 491.43 L205.46 492.03 L209.56 492.62 L213.65 493.18 L217.75 493.73 L221.85 494.26 L225.94 494.79 L230.04 495.3 L234.14 495.8 L238.24 496.29 L242.33 496.77 L246.43 497.24 L250.53 497.7 L254.63 498.15 L258.72 498.59 L262.82 499.02 L266.92 499.44 L271.01 499.86 L275.11 500.26 L279.21 500.66 L283.31 501.04 L287.4 501.42 L291.5 501.79 L295.6 502.15 L299.69 502.51 L303.79 502.85 L307.89 503.19 L311.99 503.52 L316.08 503.84 L320.18 504.16 L324.28 504.46 L328.38 504.76 L332.47 505.06 L336.57 505.35 L340.67 505.63 L344.76 505.9 L348.86 506.17 L352.96 506.43 L357.06 506.68 L361.15 506.93 L365.25 507.17 L369.35 507.41 L373.44 507.64 L377.54 507.87 L381.64 508.09 L385.74 508.31 L389.83 508.52 L393.93 508.73 L398.03 508.93 L402.13 509.13 L406.22 509.32 L410.32 509.51 L414.42 509.69 L418.51 509.87 L422.61 510.05 L426.71 510.22 L430.81 510.39 L434.9 510.56 L439 510.72 L441 510.72 L441 462 L68.25 462Z" fill="#dc4231"/>
<path d="M68.25 460.54 L70.25 460.54 L74.35 462.03 L78.44 463.5 L82.54 464.95 L86.64 466.37 L90.74 467.76 L94.83 469.13 L98.93 470.47 L103.03 471.78 L107.12 473.06 L111.22 474.31 L115.32 475.53 L119.42 476.72 L123.51 477.87 L127.61 478.98 L131.71 480.07 L135.81 481.11 L139.9 482.12 L144 483.09 L148.1 484.02 L152.19 484.92 L156.29 485.79 L160.39 486.62 L164.49 487.43 L168.58 488.21 L172.68 488.96 L176.78 489.68 L180.88 490.38 L184.97 491.06 L189.07 491.72 L193.17 492.36 L197.26 492.98 L201.36 493.57 L205.46 494.15 L209.56 494.71 L213.65 495.25 L217.75 495.78 L221.85 496.29 L225.94 496.79 L230.04 497.28 L234.14 497.77 L238.24 498.24 L242.33 498.7 L246.43 499.15 L250.53 499.59 L254.63 500.02 L258.72 500.45 L262.82 500.86 L266.92 501.27 L271.01 501.66 L275.11 502.05 L279.21 502.43 L283.31 502.8 L287.4 503.16 L291.5 503.52 L295.6 503.87 L299.69 504.21 L303.79 504.54 L307.89 504.86 L311.99 505.18 L316.08 505.49 L320.18 505.79 L324.28 506.09 L328.38 506.37 L332.47 506.66 L336.57 506.93 L340.67 507.2 L344.76 507.46 L348.86 507.72 L352.96 507.97 L357.06 508.21 L361.15 508.45 L365.25 508.69 L369.35 508.92 L373.44 509.14 L377.54 509.36 L381.64 509.57 L385.74 509.78 L389.83 509.98 L393.93 510.18 L398.03 510.37 L402.13 510.56 L406.22 510.75 L410.32 510.93 L414.42 511.1 L418.51 511.28 L422.61 511.45 L426.71 511.61 L430.81 511.78 L434.9 511.94 L439 512.09 L441 512.09 L441 462 L68.25 462Z" fill="#db3c2b"/>
<path d="M70.25 -299.57 L74.1 -285.53 L77.96 -271.69 L81.81 -258.06 L85.66 -244.65 L89.51 -231.47 L93.37 -218.52 L97.22 -205.82 L101.07 -193.38 L104.93 -181.19 L108.78 -169.27 L112.63 -157.63 L116.48 -146.27 L120.34 -135.2 L124.19 -124.44 L128.04 -113.98 L131.9 -103.85 L135.75 -94.03 L139.6 -84.55 L143.45 -75.4 L147.31 -66.56 L151.16 -58.04 L155.01 -49.8 L158.87 -41.84 L162.72 -34.15 L166.57 -26.72 L170.42 -19.52 L174.28 -12.56 L178.13 -5.82 L181.98 0.72 L185.84 7.07 L189.69 13.22 L193.54 19.19 L197.39 24.99 L201.25 30.6 L205.1 36.04 L208.95 41.32 L212.81 46.45 L216.66 51.43 L220.51 56.29 L224.36 61.04 L228.22 65.7 L232.07 70.26 L235.92 74.73 L239.78 79.12 L243.63 83.42 L247.48 87.64 L251.33 91.78 L255.19 95.83 L259.04 99.8 L262.89 103.69 L266.75 107.51 L270.6 111.24 L274.45 114.9 L278.3 118.49 L282.16 122 L286.01 125.44 L289.86 128.8 L293.72 132.1 L297.57 135.32 L301.42 138.48" fill="none" stroke="#1b2f3a" stroke-opacity="0.75" stroke-width="0.6"/>
<path d="M325.82 156.96 L327.7 158.29 L329.59 159.6 L331.48 160.9 L333.36 162.18 L335.25 163.45 L337.14 164.71 L339.02 165.95 L340.91 167.18 L342.8 168.39 L344.68 169.59 L346.57 170.78 L348.45 171.96 L350.34 173.12 L352.23 174.28 L354.11 175.41 L356 176.54 L357.89 177.65 L359.77 178.76 L361.66 179.85 L363.55 180.93 L365.43 181.99 L367.32 183.05 L369.2 184.09 L371.09 185.12 L372.98 186.15 L374.86 187.16 L376.75 188.16 L378.64 189.15 L380.52 190.12 L382.41 191.09 L384.3 192.05 L386.18 193 L388.07 193.93 L389.95 194.86 L391.84 195.78 L393.73 196.69 L395.61 197.59 L397.5 198.48 L399.39 199.36 L401.27 200.23 L403.16 201.09 L405.05 201.94 L406.93 202.79 L408.82 203.62 L410.7 204.45 L412.59 205.27 L414.48 206.08 L416.36 206.89 L418.25 207.68 L420.14 208.47 L422.02 209.25 L423.91 210.02 L425.8 210.79 L427.68 211.55 L429.57 212.3 L431.45 213.04 L433.34 213.78 L435.23 214.51 L437.11 215.23 L439 215.95" fill="none" stroke="#1b2f3a" stroke-opacity="0.75" stroke-width="0.6"/>
<text x="313.62" y="148.04" font-size="14.3" text-anchor="middle" fill="#1f2a31" textLength="20.4" lengthAdjust="spacingAndGlyphs" transform="rotate(37.13 313.62 148.04)" dy="5.0">0.5</text>
<path d="M70.25 122.71 L70.53 123.23 L70.81 123.74 L71.1 124.26 L71.38 124.78 L71.66 125.29 L71.94 125.8 L72.22 126.32 L72.5 126.83 L72.79 127.34 L73.07 127.86 L73.35 128.37 L73.63 128.88 L73.91 129.39 L74.19 129.9 L74.48 130.41 L74.76 130.92 L75.04 131.42 L75.32 131.93 L75.6 132.44 L75.88 132.95 L76.17 133.45 L76.45 133.96 L76.73 134.46 L77.01 134.97 L77.29 135.47 L77.57 135.97 L77.86 136.48 L78.14 136.98 L78.42 137.48 L78.7 137.98 L78.98 138.48 L79.26 138.98 L79.55 139.48 L79.83 139.98 L80.11 140.48 L80.39 140.97 L80.67 141.47 L80.95 141.97 L81.24 142.46 L81.52 142.96 L81.8 143.45 L82.08 143.95 L82.36 144.44 L82.64 144.93 L82.93 145.42 L83.21 145.92 L83.49 146.41 L83.77 146.9 L84.05 147.39 L84.33 147.88 L84.62 148.36 L84.9 148.85 L85.18 149.34 L85.46 149.83 L85.74 150.31 L86.02 150.8 L86.31 151.28 L86.59 151.77 L86.87 152.25 L87.15 152.73" fill="none" stroke="#1b2f3a" stroke-opacity="0.75" stroke-width="0.6"/>
<path d="M103.01 178.89 L108.61 187.61 L114.21 196.03 L119.81 204.15 L125.41 211.95 L131.01 219.42 L136.61 226.56 L142.21 233.34 L147.81 239.78 L153.41 245.9 L159.01 251.72 L164.61 257.26 L170.21 262.54 L175.81 267.57 L181.41 272.38 L187.01 276.98 L192.61 281.38 L198.21 285.59 L203.81 289.62 L209.41 293.47 L215.01 297.15 L220.61 300.7 L226.21 304.14 L231.81 307.47 L237.41 310.72 L243.01 313.87 L248.61 316.93 L254.21 319.9 L259.81 322.79 L265.41 325.59 L271 328.32 L276.6 330.96 L282.2 333.52 L287.8 336.01 L293.4 338.42 L299 340.75 L304.6 343.02 L310.2 345.21 L315.8 347.34 L321.4 349.4 L327 351.4 L332.6 353.33 L338.2 355.2 L343.8 357.02 L349.4 358.77 L355 360.47 L360.6 362.12 L366.2 363.71 L371.8 365.25 L377.4 366.75 L383 368.2 L388.6 369.6 L394.2 370.96 L399.8 372.27 L405.4 373.55 L411 374.79 L416.6 375.99 L422.2 377.16 L427.8 378.3 L433.4 379.4 L439 380.48" fill="none" stroke="#1b2f3a" stroke-opacity="0.75" stroke-width="0.6"/>
<text x="95.08" y="166.07" font-size="14.3" text-anchor="middle" fill="#1f2a31" textLength="20.4" lengthAdjust="spacingAndGlyphs" transform="rotate(58.78 95.08 166.07)" dy="5.0">1.0</text>
<path d="M70.25 333.85 L70.62 334.19 L70.98 334.53 L71.35 334.86 L71.71 335.19 L72.08 335.53 L72.44 335.86 L72.81 336.19 L73.18 336.53 L73.54 336.86 L73.91 337.19 L74.27 337.52 L74.64 337.85 L75 338.18 L75.37 338.51 L75.74 338.84 L76.1 339.17 L76.47 339.49 L76.83 339.82 L77.2 340.15 L77.56 340.48 L77.93 340.8 L78.29 341.13 L78.66 341.45 L79.03 341.78 L79.39 342.1 L79.76 342.43 L80.12 342.75 L80.49 343.07 L80.85 343.39 L81.22 343.72 L81.59 344.04 L81.95 344.36 L82.32 344.68 L82.68 345 L83.05 345.32 L83.41 345.64 L83.78 345.96 L84.15 346.27 L84.51 346.59 L84.88 346.91 L85.24 347.22 L85.61 347.54 L85.97 347.86 L86.34 348.17 L86.71 348.48 L87.07 348.8 L87.44 349.11 L87.8 349.42 L88.17 349.74 L88.53 350.05 L88.9 350.36 L89.26 350.67 L89.63 350.98 L90 351.29 L90.36 351.6 L90.73 351.91 L91.09 352.21 L91.46 352.52 L91.82 352.83 L92.19 353.14" fill="none" stroke="#1b2f3a" stroke-opacity="0.75" stroke-width="0.6"/>
<path d="M116.26 372.01 L121.63 375.86 L127.01 379.56 L132.39 383.11 L137.77 386.5 L143.15 389.72 L148.53 392.79 L153.91 395.72 L159.29 398.5 L164.67 401.16 L170.05 403.69 L175.43 406.12 L180.8 408.43 L186.18 410.66 L191.56 412.79 L196.94 414.83 L202.32 416.78 L207.7 418.65 L213.08 420.45 L218.46 422.18 L223.84 423.85 L229.22 425.47 L234.6 427.05 L239.97 428.58 L245.35 430.08 L250.73 431.53 L256.11 432.95 L261.49 434.32 L266.87 435.66 L272.25 436.95 L277.63 438.21 L283.01 439.44 L288.39 440.63 L293.77 441.78 L299.14 442.9 L304.52 443.99 L309.9 445.05 L315.28 446.07 L320.66 447.06 L326.04 448.03 L331.42 448.96 L336.8 449.87 L342.18 450.75 L347.56 451.6 L352.93 452.42 L358.31 453.22 L363.69 454 L369.07 454.75 L374.45 455.48 L379.83 456.19 L385.21 456.88 L390.59 457.54 L395.97 458.19 L401.35 458.81 L406.73 459.42 L412.1 460.01 L417.48 460.59 L422.86 461.15 L428.24 461.69 L433.62 462.22 L439 462.74" fill="none" stroke="#1b2f3a" stroke-opacity="0.75" stroke-width="0.6"/>
<text x="104.22" y="362.9" font-size="14.3" text-anchor="middle" fill="#1f2a31" textLength="20.4" lengthAdjust="spacingAndGlyphs" transform="rotate(38.14 104.22 362.9)" dy="5.0">2.0</text>
<path d="M70.25 404.24 L71.25 404.85 L72.25 405.45 L73.24 406.06 L74.24 406.66 L75.24 407.26 L76.24 407.86 L77.24 408.46 L78.24 409.05 L79.23 409.64 L80.23 410.23 L81.23 410.82 L82.23 411.4 L83.23 411.98 L84.22 412.56 L85.22 413.14 L86.22 413.71 L87.22 414.28 L88.22 414.85 L89.22 415.42 L90.21 415.98 L91.21 416.54 L92.21 417.1 L93.21 417.66 L94.21 418.21 L95.21 418.76 L96.2 419.31 L97.2 419.85 L98.2 420.39 L99.2 420.93 L100.2 421.47 L101.19 422 L102.19 422.53 L103.19 423.06 L104.19 423.58 L105.19 424.1 L106.19 424.62 L107.18 425.14 L108.18 425.65 L109.18 426.16 L110.18 426.66 L111.18 427.17 L112.17 427.67 L113.17 428.16 L114.17 428.66 L115.17 429.15 L116.17 429.63 L117.17 430.12 L118.16 430.6 L119.16 431.07 L120.16 431.55 L121.16 432.02 L122.16 432.48 L123.16 432.95 L124.15 433.41 L125.15 433.86 L126.15 434.32 L127.15 434.77 L128.15 435.21 L129.14 435.66 L130.14 436.1" fill="none" stroke="#1b2f3a" stroke-opacity="0.75" stroke-width="0.6"/>
<path d="M158.69 447.13 L163.37 448.68 L168.04 450.17 L172.71 451.6 L177.38 452.98 L182.05 454.3 L186.73 455.58 L191.4 456.81 L196.07 458 L200.74 459.14 L205.41 460.24 L210.08 461.31 L214.76 462.33 L219.43 463.32 L224.1 464.28 L228.77 465.22 L233.44 466.14 L238.11 467.04 L242.79 467.91 L247.46 468.77 L252.13 469.6 L256.8 470.42 L261.47 471.21 L266.15 471.98 L270.82 472.74 L275.49 473.48 L280.16 474.2 L284.83 474.9 L289.5 475.58 L294.18 476.25 L298.85 476.89 L303.52 477.53 L308.19 478.14 L312.86 478.74 L317.53 479.33 L322.21 479.9 L326.88 480.45 L331.55 480.99 L336.22 481.51 L340.89 482.03 L345.56 482.52 L350.24 483.01 L354.91 483.48 L359.58 483.94 L364.25 484.39 L368.92 484.82 L373.6 485.24 L378.27 485.66 L382.94 486.06 L387.61 486.45 L392.28 486.83 L396.95 487.2 L401.63 487.56 L406.3 487.92 L410.97 488.26 L415.64 488.6 L420.31 488.92 L424.98 489.24 L429.66 489.55 L434.33 489.86 L439 490.16" fill="none" stroke="#1b2f3a" stroke-opacity="0.75" stroke-width="0.6"/>
<text x="144.42" y="441.97" font-size="14.3" text-anchor="middle" fill="#1f2a31" textLength="20.4" lengthAdjust="spacingAndGlyphs" transform="rotate(21.08 144.42 441.97)" dy="5.0">3.0</text>
<path d="M70.25 439.43 L70.41 439.5 L70.56 439.57 L70.72 439.64 L70.88 439.71 L71.03 439.79 L71.19 439.86 L71.35 439.93 L71.51 440 L71.66 440.07 L71.82 440.14 L71.98 440.22 L72.13 440.29 L72.29 440.36 L72.45 440.43 L72.6 440.5 L72.76 440.57 L72.92 440.64 L73.08 440.72 L73.23 440.79 L73.39 440.86 L73.55 440.93 L73.7 441 L73.86 441.07 L74.02 441.14 L74.17 441.21 L74.33 441.29 L74.49 441.36 L74.64 441.43 L74.8 441.5 L74.96 441.57 L75.12 441.64 L75.27 441.71 L75.43 441.78 L75.59 441.85 L75.74 441.92 L75.9 441.99 L76.06 442.06 L76.21 442.13 L76.37 442.2 L76.53 442.27 L76.69 442.34 L76.84 442.41 L77 442.48 L77.16 442.56 L77.31 442.63 L77.47 442.7 L77.63 442.77 L77.78 442.84 L77.94 442.91 L78.1 442.98 L78.25 443.05 L78.41 443.12 L78.57 443.18 L78.73 443.25 L78.88 443.32 L79.04 443.39 L79.2 443.46 L79.35 443.53 L79.51 443.6 L79.67 443.67" fill="none" stroke="#1b2f3a" stroke-opacity="0.75" stroke-width="0.6"/>
<path d="M107.93 455.39 L113.45 457.47 L118.96 459.48 L124.48 461.42 L130 463.27 L135.52 465.05 L141.04 466.73 L146.55 468.34 L152.07 469.87 L157.59 471.32 L163.11 472.7 L168.62 474.02 L174.14 475.27 L179.66 476.47 L185.18 477.62 L190.7 478.72 L196.21 479.78 L201.73 480.79 L207.25 481.75 L212.77 482.67 L218.29 483.56 L223.8 484.42 L229.32 485.25 L234.84 486.06 L240.36 486.85 L245.87 487.61 L251.39 488.35 L256.91 489.08 L262.43 489.78 L267.95 490.46 L273.46 491.12 L278.98 491.76 L284.5 492.39 L290.02 492.99 L295.54 493.58 L301.05 494.15 L306.57 494.7 L312.09 495.23 L317.61 495.75 L323.12 496.25 L328.64 496.74 L334.16 497.21 L339.68 497.67 L345.2 498.11 L350.71 498.54 L356.23 498.96 L361.75 499.36 L367.27 499.75 L372.79 500.13 L378.3 500.49 L383.82 500.85 L389.34 501.19 L394.86 501.53 L400.37 501.85 L405.89 502.16 L411.41 502.47 L416.93 502.76 L422.45 503.05 L427.96 503.33 L433.48 503.6 L439 503.87" fill="none" stroke="#1b2f3a" stroke-opacity="0.75" stroke-width="0.6"/>
<text x="93.8" y="449.74" font-size="14.3" text-anchor="middle" fill="#1f2a31" textLength="20.4" lengthAdjust="spacingAndGlyphs" transform="rotate(22.55 93.8 449.74)" dy="5.0">4.0</text>
<path d="M70.25 210.65 L74.35 216.56 L78.44 222.37 L82.54 228.1 L86.64 233.72 L90.74 239.24 L94.83 244.66 L98.93 249.96 L103.03 255.15 L107.12 260.22 L111.22 265.17 L115.32 269.99 L119.42 274.68 L123.51 279.24 L127.61 283.66 L131.71 287.94 L135.81 292.07 L139.9 296.06 L144 299.9 L148.1 303.59 L152.19 307.15 L156.29 310.59 L160.39 313.89 L164.49 317.09 L168.58 320.16 L172.68 323.14 L176.78 326.01 L180.88 328.79 L184.97 331.48 L189.07 334.09 L193.17 336.61 L197.26 339.06 L201.36 341.42 L205.46 343.71 L209.56 345.92 L213.65 348.07 L217.75 350.15 L221.85 352.18 L225.94 354.17 L230.04 356.11 L234.14 358.01 L238.24 359.88 L242.33 361.7 L246.43 363.49 L250.53 365.24 L254.63 366.95 L258.72 368.62 L262.82 370.26 L266.92 371.87 L271.01 373.44 L275.11 374.98 L279.21 376.48 L283.31 377.95 L287.4 379.39 L291.5 380.79 L295.6 382.16 L299.69 383.51 L303.79 384.82 L307.89 386.1 L311.99 387.36 L316.08 388.58 L320.18 389.78 L324.28 390.95 L328.38 392.09 L332.47 393.21 L336.57 394.3 L340.67 395.36 L344.76 396.4 L348.86 397.42 L352.96 398.41 L357.06 399.38 L361.15 400.33 L365.25 401.25 L369.35 402.15 L373.44 403.03 L377.54 403.9 L381.64 404.74 L385.74 405.56 L389.83 406.36 L393.93 407.15 L398.03 407.91 L402.13 408.66 L406.22 409.4 L410.32 410.12 L414.42 410.82 L418.51 411.5 L422.61 412.18 L426.71 412.84 L430.81 413.48 L434.9 414.11 L439 414.73" fill="none" stroke="#d97160" stroke-width="2.4"/>
<path d="M70.25 451.78 L74.35 453.43 L78.44 455.05 L82.54 456.64 L86.64 458.21 L90.74 459.75 L94.83 461.26 L98.93 462.74 L103.03 464.19 L107.12 465.6 L111.22 466.98 L115.32 468.32 L119.42 469.63 L123.51 470.9 L127.61 472.14 L131.71 473.33 L135.81 474.48 L139.9 475.59 L144 476.66 L148.1 477.69 L152.19 478.69 L156.29 479.64 L160.39 480.56 L164.49 481.45 L168.58 482.31 L172.68 483.14 L176.78 483.94 L180.88 484.72 L184.97 485.47 L189.07 486.2 L193.17 486.9 L197.26 487.58 L201.36 488.24 L205.46 488.88 L209.56 489.49 L213.65 490.09 L217.75 490.67 L221.85 491.24 L225.94 491.79 L230.04 492.33 L234.14 492.86 L238.24 493.38 L242.33 493.89 L246.43 494.39 L250.53 494.88 L254.63 495.36 L258.72 495.82 L262.82 496.28 L266.92 496.73 L271.01 497.17 L275.11 497.59 L279.21 498.01 L283.31 498.42 L287.4 498.82 L291.5 499.22 L295.6 499.6 L299.69 499.97 L303.79 500.34 L307.89 500.7 L311.99 501.05 L316.08 501.39 L320.18 501.72 L324.28 502.05 L328.38 502.37 L332.47 502.68 L336.57 502.98 L340.67 503.28 L344.76 503.57 L348.86 503.85 L352.96 504.13 L357.06 504.4 L361.15 504.66 L365.25 504.92 L369.35 505.17 L373.44 505.42 L377.54 505.66 L381.64 505.89 L385.74 506.12 L389.83 506.35 L393.93 506.56 L398.03 506.78 L402.13 506.99 L406.22 507.19 L410.32 507.39 L414.42 507.59 L418.51 507.78 L422.61 507.97 L426.71 508.15 L430.81 508.33 L434.9 508.51 L439 508.68" fill="none" stroke="#2b4468" stroke-width="2.3"/>
</g>
<path d="M109.58 446.15 L114.88 457.15 L104.28 457.15 Z" fill="#fff" stroke="#1d1d1d" stroke-width="1.5" stroke-linejoin="miter"/>
<rect x="70.25" y="81" width="368.75" height="379" fill="none" stroke="#2d4650" stroke-width="1"/>
<line x1="104" y1="460" x2="104" y2="465" stroke="#555" stroke-width="1"/>
<text x="104" y="484" font-size="14.6" text-anchor="middle" font-weight="normal" fill="#2a2a2a" textLength="17.6" lengthAdjust="spacingAndGlyphs">40</text>
<line x1="159.75" y1="460" x2="159.75" y2="465" stroke="#555" stroke-width="1"/>
<text x="159.75" y="484" font-size="14.6" text-anchor="middle" font-weight="normal" fill="#2a2a2a" textLength="17.6" lengthAdjust="spacingAndGlyphs">50</text>
<line x1="215.5" y1="460" x2="215.5" y2="465" stroke="#555" stroke-width="1"/>
<text x="215.5" y="484" font-size="14.6" text-anchor="middle" font-weight="normal" fill="#2a2a2a" textLength="17.6" lengthAdjust="spacingAndGlyphs">60</text>
<line x1="271.25" y1="460" x2="271.25" y2="465" stroke="#555" stroke-width="1"/>
<text x="271.25" y="484" font-size="14.6" text-anchor="middle" font-weight="normal" fill="#2a2a2a" textLength="17.6" lengthAdjust="spacingAndGlyphs">70</text>
<line x1="327" y1="460" x2="327" y2="465" stroke="#555" stroke-width="1"/>
<text x="327" y="484" font-size="14.6" text-anchor="middle" font-weight="normal" fill="#2a2a2a" textLength="17.6" lengthAdjust="spacingAndGlyphs">80</text>
<line x1="382.75" y1="460" x2="382.75" y2="465" stroke="#555" stroke-width="1"/>
<text x="382.75" y="484" font-size="14.6" text-anchor="middle" font-weight="normal" fill="#2a2a2a" textLength="17.6" lengthAdjust="spacingAndGlyphs">90</text>
<line x1="438.5" y1="460" x2="438.5" y2="465" stroke="#555" stroke-width="1"/>
<text x="438.5" y="484" font-size="14.6" text-anchor="middle" font-weight="normal" fill="#2a2a2a" textLength="24.2" lengthAdjust="spacingAndGlyphs">100</text>
<line x1="64.75" y1="450.75" x2="70.25" y2="450.75" stroke="#555" stroke-width="1"/>
<text x="57.55" y="456.05" font-size="14.6" text-anchor="end" font-weight="normal" fill="#2a2a2a" textLength="8.9" lengthAdjust="spacingAndGlyphs">0</text>
<line x1="64.75" y1="358.35" x2="70.25" y2="358.35" stroke="#555" stroke-width="1"/>
<text x="57.55" y="363.65" font-size="14.6" text-anchor="end" font-weight="normal" fill="#2a2a2a" textLength="25" lengthAdjust="spacingAndGlyphs">100</text>
<line x1="64.75" y1="265.95" x2="70.25" y2="265.95" stroke="#555" stroke-width="1"/>
<text x="57.55" y="271.25" font-size="14.6" text-anchor="end" font-weight="normal" fill="#2a2a2a" textLength="26.7" lengthAdjust="spacingAndGlyphs">200</text>
<line x1="64.75" y1="173.55" x2="70.25" y2="173.55" stroke="#555" stroke-width="1"/>
<text x="57.55" y="178.85" font-size="14.6" text-anchor="end" font-weight="normal" fill="#2a2a2a" textLength="26.7" lengthAdjust="spacingAndGlyphs">300</text>
<line x1="64.75" y1="81.15" x2="70.25" y2="81.15" stroke="#555" stroke-width="1"/>
<text x="57.55" y="86.45" font-size="14.6" text-anchor="end" font-weight="normal" fill="#2a2a2a" textLength="26.7" lengthAdjust="spacingAndGlyphs">400</text>
<text x="49" y="510.1" font-size="15.5" text-anchor="start" font-weight="normal" fill="#2a2a2a" textLength="411.8" lengthAdjust="spacingAndGlyphs">Trip mileage (relative to maximum battery range) (%)</text>
<text x="0" y="0" font-size="15.5" text-anchor="middle" fill="#2a2a2a" textLength="196.5" lengthAdjust="spacingAndGlyphs" transform="translate(15.2 270) rotate(-90)">Increased active trips (%)</text>
<text x="0.2" y="17.8" font-size="23" text-anchor="start" font-weight="bold" fill="#111" textLength="13.3" lengthAdjust="spacingAndGlyphs" stroke="#111" stroke-width="0.9">a</text>
<text x="31.1" y="17.8" font-size="17.2" text-anchor="start" font-weight="normal" fill="#2a2a2a" textLength="140.8" lengthAdjust="spacingAndGlyphs">LD delivery truck</text>
<line x1="114" y1="38.6" x2="128.6" y2="38.6" stroke="#e08671" stroke-width="1.5"/>
<line x1="114" y1="59" x2="128.6" y2="59" stroke="#39434f" stroke-width="1.3"/>
<text x="138.9" y="43.7" font-size="14.6" text-anchor="start" font-weight="normal" fill="#2a2a2a" textLength="100.8" lengthAdjust="spacingAndGlyphs">TCO breakeven</text>
<text x="138.9" y="63.8" font-size="14.6" fill="#2a2a2a" textLength="99.3" lengthAdjust="spacingAndGlyphs">CO<tspan font-size="10" dy="5">2</tspan><tspan dy="-5"> breakeven</tspan></text>
<path d="M270.6 34.6 L276 43.5 L265.2 43.5 Z" fill="#fff" stroke="#333" stroke-width="1.1"/>
<text x="284.2" y="43.7" font-size="14.6" text-anchor="start" font-weight="normal" fill="#2a2a2a" textLength="93.6" lengthAdjust="spacingAndGlyphs">Current usage</text>
<rect x="459.4" y="443.65" width="19.3" height="15.72" fill="#38869e"/>
<rect x="459.4" y="428.53" width="19.3" height="15.72" fill="#488fa5"/>
<rect x="459.4" y="413.42" width="19.3" height="15.72" fill="#5999ad"/>
<rect x="459.4" y="398.3" width="19.3" height="15.72" fill="#6aa3b5"/>
<rect x="459.4" y="383.19" width="19.3" height="15.72" fill="#7aadbd"/>
<rect x="459.4" y="368.07" width="19.3" height="15.72" fill="#8bb7c5"/>
<rect x="459.4" y="352.95" width="19.3" height="15.72" fill="#9cc1cc"/>
<rect x="459.4" y="337.84" width="19.3" height="15.72" fill="#adcbd4"/>
<rect x="459.4" y="322.73" width="19.3" height="15.71" fill="#bed5dc"/>
<rect x="459.4" y="307.61" width="19.3" height="15.72" fill="#cedfe4"/>
<rect x="459.4" y="292.49" width="19.3" height="15.72" fill="#dfe9eb"/>
<rect x="459.4" y="277.38" width="19.3" height="15.72" fill="#f0f3f3"/>
<rect x="459.4" y="262.26" width="19.3" height="15.71" fill="#f5eceb"/>
<rect x="459.4" y="247.15" width="19.3" height="15.72" fill="#f2dcda"/>
<rect x="459.4" y="232.03" width="19.3" height="15.71" fill="#f0cdc9"/>
<rect x="459.4" y="216.92" width="19.3" height="15.72" fill="#eebeb8"/>
<rect x="459.4" y="201.8" width="19.3" height="15.72" fill="#ecaea8"/>
<rect x="459.4" y="186.69" width="19.3" height="15.71" fill="#e99f97"/>
<rect x="459.4" y="171.57" width="19.3" height="15.71" fill="#e78f86"/>
<rect x="459.4" y="156.46" width="19.3" height="15.72" fill="#e58075"/>
<rect x="459.4" y="141.34" width="19.3" height="15.72" fill="#e37064"/>
<rect x="459.4" y="126.23" width="19.3" height="15.72" fill="#e06153"/>
<rect x="459.4" y="111.11" width="19.3" height="15.72" fill="#de5142"/>
<rect x="459.4" y="96" width="19.3" height="15.72" fill="#dc4231"/>
<rect x="459.4" y="80.89" width="19.3" height="15.71" fill="#db3c2b"/>
<rect x="459.4" y="81" width="19.3" height="379" fill="none" stroke="#4a4a4a" stroke-width="1"/>
<line x1="478.7" y1="96.3" x2="483.3" y2="96.3" stroke="#444" stroke-width="1"/>
<text x="490" y="101.6" font-size="14.6" text-anchor="start" font-weight="normal" fill="#2a2a2a" textLength="8.4" lengthAdjust="spacingAndGlyphs">5</text>
<line x1="478.7" y1="172" x2="483.3" y2="172" stroke="#444" stroke-width="1"/>
<text x="490" y="177.3" font-size="14.6" text-anchor="start" font-weight="normal" fill="#2a2a2a" textLength="8.4" lengthAdjust="spacingAndGlyphs">4</text>
<line x1="478.7" y1="247.3" x2="483.3" y2="247.3" stroke="#444" stroke-width="1"/>
<text x="490" y="252.6" font-size="14.6" text-anchor="start" font-weight="normal" fill="#2a2a2a" textLength="8.4" lengthAdjust="spacingAndGlyphs">3</text>
<line x1="478.7" y1="323.3" x2="483.3" y2="323.3" stroke="#444" stroke-width="1"/>
<text x="490" y="328.6" font-size="14.6" text-anchor="start" font-weight="normal" fill="#2a2a2a" textLength="8.4" lengthAdjust="spacingAndGlyphs">2</text>
<line x1="478.7" y1="398.6" x2="483.3" y2="398.6" stroke="#444" stroke-width="1"/>
<text x="490" y="403.9" font-size="14.6" text-anchor="start" font-weight="normal" fill="#2a2a2a" textLength="8.4" lengthAdjust="spacingAndGlyphs">1</text>
<text x="469.2" y="50" font-size="15.8" text-anchor="middle" font-weight="normal" fill="#2a2a2a" textLength="104" lengthAdjust="spacingAndGlyphs">Replacement</text>
<text x="469.2" y="70" font-size="15.8" text-anchor="middle" font-weight="normal" fill="#2a2a2a" textLength="29.8" lengthAdjust="spacingAndGlyphs">rate</text>
<clipPath id="clipb"><rect x="628.3" y="81" width="368.1" height="379"/></clipPath>
<g clip-path="url(#clipb)">
<rect x="627.3" y="80" width="370.1" height="381" fill="#38869e"/>
<path d="M626.3 8.79 L628.3 8.79 L632.39 11.87 L636.48 14.91 L640.57 17.91 L644.66 20.88 L648.75 23.8 L652.84 26.69 L656.93 29.55 L661.02 32.37 L665.11 35.15 L669.2 37.9 L673.29 40.62 L677.38 43.3 L681.47 45.95 L685.56 48.57 L689.65 51.16 L693.74 53.72 L697.83 56.25 L701.92 58.75 L706.01 61.22 L710.1 63.67 L714.19 66.08 L718.28 68.47 L722.37 70.83 L726.46 73.17 L730.55 75.47 L734.64 77.76 L738.73 80.01 L742.82 82.25 L746.91 84.45 L751 86.64 L755.09 88.8 L759.18 90.94 L763.27 93.05 L767.36 95.14 L771.45 97.21 L775.54 99.26 L779.63 101.29 L783.72 103.29 L787.81 105.28 L791.9 107.24 L795.99 109.19 L800.08 111.11 L804.17 113.02 L808.26 114.91 L812.35 116.77 L816.44 118.62 L820.53 120.45 L824.62 122.26 L828.71 124.06 L832.8 125.83 L836.89 127.59 L840.98 129.33 L845.07 131.06 L849.16 132.77 L853.25 134.46 L857.34 136.14 L861.43 137.8 L865.52 139.44 L869.61 141.07 L873.7 142.69 L877.79 144.29 L881.88 145.87 L885.97 147.44 L890.06 149 L894.15 150.54 L898.24 152.06 L902.33 153.58 L906.42 155.08 L910.51 156.56 L914.6 158.04 L918.69 159.5 L922.78 160.94 L926.87 162.38 L930.96 163.8 L935.05 165.21 L939.14 166.61 L943.23 167.99 L947.32 169.37 L951.41 170.73 L955.5 172.08 L959.59 173.42 L963.68 174.74 L967.77 176.06 L971.86 177.36 L975.95 178.66 L980.04 179.94 L984.13 181.21 L988.22 182.48 L992.31 183.73 L996.4 184.97 L998.4 184.97 L998.4 462 L626.3 462Z" fill="#4a91a6"/>
<path d="M626.3 115.89 L628.3 115.89 L632.39 118.35 L636.48 120.78 L640.57 123.18 L644.66 125.55 L648.75 127.89 L652.84 130.21 L656.93 132.49 L661.02 134.74 L665.11 136.97 L669.2 139.17 L673.29 141.35 L677.38 143.49 L681.47 145.61 L685.56 147.71 L689.65 149.78 L693.74 151.83 L697.83 153.85 L701.92 155.85 L706.01 157.83 L710.1 159.79 L714.19 161.72 L718.28 163.63 L722.37 165.52 L726.46 167.38 L730.55 169.23 L734.64 171.06 L738.73 172.86 L742.82 174.65 L746.91 176.42 L751 178.16 L755.09 179.89 L759.18 181.6 L763.27 183.29 L767.36 184.97 L771.45 186.62 L775.54 188.26 L779.63 189.88 L783.72 191.49 L787.81 193.08 L791.9 194.65 L795.99 196.2 L800.08 197.74 L804.17 199.27 L808.26 200.78 L812.35 202.27 L816.44 203.75 L820.53 205.21 L824.62 206.66 L828.71 208.1 L832.8 209.52 L836.89 210.93 L840.98 212.32 L845.07 213.7 L849.16 215.07 L853.25 216.42 L857.34 217.76 L861.43 219.09 L865.52 220.41 L869.61 221.71 L873.7 223 L877.79 224.28 L881.88 225.55 L885.97 226.8 L890.06 228.05 L894.15 229.28 L898.24 230.5 L902.33 231.71 L906.42 232.91 L910.51 234.1 L914.6 235.28 L918.69 236.45 L922.78 237.61 L926.87 238.76 L930.96 239.89 L935.05 241.02 L939.14 242.14 L943.23 243.25 L947.32 244.34 L951.41 245.43 L955.5 246.51 L959.59 247.58 L963.68 248.65 L967.77 249.7 L971.86 250.74 L975.95 251.78 L980.04 252.8 L984.13 253.82 L988.22 254.83 L992.31 255.83 L996.4 256.83 L998.4 256.83 L998.4 462 L626.3 462Z" fill="#5c9baf"/>
<path d="M626.3 187.28 L628.3 187.28 L632.39 189.33 L636.48 191.36 L640.57 193.36 L644.66 195.34 L648.75 197.29 L652.84 199.21 L656.93 201.12 L661.02 203 L665.11 204.85 L669.2 206.69 L673.29 208.5 L677.38 210.29 L681.47 212.06 L685.56 213.8 L689.65 215.53 L693.74 217.24 L697.83 218.92 L701.92 220.59 L706.01 222.24 L710.1 223.86 L714.19 225.47 L718.28 227.07 L722.37 228.64 L726.46 230.2 L730.55 231.74 L734.64 233.26 L738.73 234.76 L742.82 236.25 L746.91 237.72 L751 239.18 L755.09 240.62 L759.18 242.04 L763.27 243.45 L767.36 244.85 L771.45 246.23 L775.54 247.59 L779.63 248.95 L783.72 250.28 L787.81 251.61 L791.9 252.92 L795.99 254.21 L800.08 255.5 L804.17 256.77 L808.26 258.02 L812.35 259.27 L816.44 260.5 L820.53 261.72 L824.62 262.93 L828.71 264.12 L832.8 265.31 L836.89 266.48 L840.98 267.64 L845.07 268.79 L849.16 269.93 L853.25 271.06 L857.34 272.18 L861.43 273.29 L865.52 274.38 L869.61 275.47 L873.7 276.54 L877.79 277.61 L881.88 278.67 L885.97 279.71 L890.06 280.75 L894.15 281.78 L898.24 282.8 L902.33 283.8 L906.42 284.8 L910.51 285.8 L914.6 286.78 L918.69 287.75 L922.78 288.72 L926.87 289.67 L930.96 290.62 L935.05 291.56 L939.14 292.49 L943.23 293.42 L947.32 294.33 L951.41 295.24 L955.5 296.14 L959.59 297.03 L963.68 297.92 L967.77 298.79 L971.86 299.66 L975.95 300.52 L980.04 301.38 L984.13 302.23 L988.22 303.07 L992.31 303.9 L996.4 304.73 L998.4 304.73 L998.4 462 L626.3 462Z" fill="#6fa6b7"/>
<path d="M626.3 238.28 L628.3 238.28 L632.39 240.04 L636.48 241.77 L640.57 243.49 L644.66 245.18 L648.75 246.86 L652.84 248.51 L656.93 250.14 L661.02 251.75 L665.11 253.34 L669.2 254.91 L673.29 256.46 L677.38 258 L681.47 259.51 L685.56 261.01 L689.65 262.49 L693.74 263.95 L697.83 265.4 L701.92 266.83 L706.01 268.24 L710.1 269.64 L714.19 271.02 L718.28 272.38 L722.37 273.73 L726.46 275.06 L730.55 276.38 L734.64 277.69 L738.73 278.98 L742.82 280.25 L746.91 281.51 L751 282.76 L755.09 284 L759.18 285.22 L763.27 286.43 L767.36 287.62 L771.45 288.8 L775.54 289.97 L779.63 291.13 L783.72 292.28 L787.81 293.41 L791.9 294.54 L795.99 295.65 L800.08 296.75 L804.17 297.84 L808.26 298.91 L812.35 299.98 L816.44 301.04 L820.53 302.08 L824.62 303.12 L828.71 304.14 L832.8 305.16 L836.89 306.16 L840.98 307.16 L845.07 308.15 L849.16 309.12 L853.25 310.09 L857.34 311.05 L861.43 312 L865.52 312.94 L869.61 313.87 L873.7 314.79 L877.79 315.7 L881.88 316.61 L885.97 317.51 L890.06 318.39 L894.15 319.28 L898.24 320.15 L902.33 321.01 L906.42 321.87 L910.51 322.72 L914.6 323.56 L918.69 324.4 L922.78 325.22 L926.87 326.04 L930.96 326.85 L935.05 327.66 L939.14 328.46 L943.23 329.25 L947.32 330.03 L951.41 330.81 L955.5 331.58 L959.59 332.35 L963.68 333.11 L967.77 333.86 L971.86 334.6 L975.95 335.34 L980.04 336.08 L984.13 336.8 L988.22 337.53 L992.31 338.24 L996.4 338.95 L998.4 338.95 L998.4 462 L626.3 462Z" fill="#81b1c0"/>
<path d="M626.3 276.53 L628.3 276.53 L632.39 278.07 L636.48 279.59 L640.57 281.09 L644.66 282.57 L648.75 284.03 L652.84 285.48 L656.93 286.9 L661.02 288.31 L665.11 289.7 L669.2 291.08 L673.29 292.44 L677.38 293.78 L681.47 295.11 L685.56 296.42 L689.65 297.71 L693.74 298.99 L697.83 300.26 L701.92 301.51 L706.01 302.74 L710.1 303.96 L714.19 305.17 L718.28 306.36 L722.37 307.54 L726.46 308.71 L730.55 309.87 L734.64 311.01 L738.73 312.14 L742.82 313.25 L746.91 314.36 L751 315.45 L755.09 316.53 L759.18 317.6 L763.27 318.66 L767.36 319.7 L771.45 320.74 L775.54 321.76 L779.63 322.77 L783.72 323.78 L787.81 324.77 L791.9 325.75 L795.99 326.72 L800.08 327.69 L804.17 328.64 L808.26 329.58 L812.35 330.52 L816.44 331.44 L820.53 332.35 L824.62 333.26 L828.71 334.16 L832.8 335.05 L836.89 335.93 L840.98 336.8 L845.07 337.66 L849.16 338.51 L853.25 339.36 L857.34 340.2 L861.43 341.03 L865.52 341.85 L869.61 342.67 L873.7 343.47 L877.79 344.27 L881.88 345.06 L885.97 345.85 L890.06 346.63 L894.15 347.4 L898.24 348.16 L902.33 348.92 L906.42 349.67 L910.51 350.41 L914.6 351.15 L918.69 351.88 L922.78 352.6 L926.87 353.32 L930.96 354.03 L935.05 354.73 L939.14 355.43 L943.23 356.13 L947.32 356.81 L951.41 357.49 L955.5 358.17 L959.59 358.84 L963.68 359.5 L967.77 360.16 L971.86 360.81 L975.95 361.46 L980.04 362.1 L984.13 362.74 L988.22 363.37 L992.31 363.99 L996.4 364.61 L998.4 364.61 L998.4 462 L626.3 462Z" fill="#93bcc8"/>
<path d="M626.3 306.27 L628.3 306.27 L632.39 307.64 L636.48 308.99 L640.57 310.33 L644.66 311.64 L648.75 312.95 L652.84 314.23 L656.93 315.5 L661.02 316.75 L665.11 317.99 L669.2 319.21 L673.29 320.42 L677.38 321.61 L681.47 322.79 L685.56 323.95 L689.65 325.11 L693.74 326.24 L697.83 327.37 L701.92 328.48 L706.01 329.58 L710.1 330.66 L714.19 331.74 L718.28 332.8 L722.37 333.85 L726.46 334.88 L730.55 335.91 L734.64 336.92 L738.73 337.93 L742.82 338.92 L746.91 339.9 L751 340.87 L755.09 341.83 L759.18 342.78 L763.27 343.72 L767.36 344.65 L771.45 345.57 L775.54 346.48 L779.63 347.38 L783.72 348.27 L787.81 349.16 L791.9 350.03 L795.99 350.89 L800.08 351.75 L804.17 352.6 L808.26 353.43 L812.35 354.26 L816.44 355.09 L820.53 355.9 L824.62 356.7 L828.71 357.5 L832.8 358.29 L836.89 359.07 L840.98 359.85 L845.07 360.61 L849.16 361.37 L853.25 362.13 L857.34 362.87 L861.43 363.61 L865.52 364.34 L869.61 365.06 L873.7 365.78 L877.79 366.49 L881.88 367.2 L885.97 367.9 L890.06 368.59 L894.15 369.27 L898.24 369.95 L902.33 370.62 L906.42 371.29 L910.51 371.95 L914.6 372.6 L918.69 373.25 L922.78 373.9 L926.87 374.53 L930.96 375.17 L935.05 375.79 L939.14 376.41 L943.23 377.03 L947.32 377.64 L951.41 378.25 L955.5 378.85 L959.59 379.44 L963.68 380.03 L967.77 380.61 L971.86 381.19 L975.95 381.77 L980.04 382.34 L984.13 382.91 L988.22 383.47 L992.31 384.02 L996.4 384.57 L998.4 384.57 L998.4 462 L626.3 462Z" fill="#a6c7d1"/>
<path d="M626.3 330.07 L628.3 330.07 L632.39 331.3 L636.48 332.52 L640.57 333.72 L644.66 334.91 L648.75 336.08 L652.84 337.23 L656.93 338.37 L661.02 339.5 L665.11 340.62 L669.2 341.72 L673.29 342.8 L677.38 343.88 L681.47 344.94 L685.56 345.99 L689.65 347.02 L693.74 348.04 L697.83 349.06 L701.92 350.06 L706.01 351.05 L710.1 352.02 L714.19 352.99 L718.28 353.94 L722.37 354.89 L726.46 355.82 L730.55 356.74 L734.64 357.66 L738.73 358.56 L742.82 359.45 L746.91 360.34 L751 361.21 L755.09 362.07 L759.18 362.93 L763.27 363.78 L767.36 364.61 L771.45 365.44 L775.54 366.26 L779.63 367.07 L783.72 367.87 L787.81 368.67 L791.9 369.45 L795.99 370.23 L800.08 371 L804.17 371.76 L808.26 372.52 L812.35 373.26 L816.44 374 L820.53 374.74 L824.62 375.46 L828.71 376.18 L832.8 376.89 L836.89 377.59 L840.98 378.29 L845.07 378.98 L849.16 379.66 L853.25 380.34 L857.34 381.01 L861.43 381.67 L865.52 382.33 L869.61 382.98 L873.7 383.63 L877.79 384.27 L881.88 384.9 L885.97 385.53 L890.06 386.15 L894.15 386.77 L898.24 387.38 L902.33 387.99 L906.42 388.59 L910.51 389.18 L914.6 389.77 L918.69 390.35 L922.78 390.93 L926.87 391.51 L930.96 392.08 L935.05 392.64 L939.14 393.2 L943.23 393.75 L947.32 394.3 L951.41 394.85 L955.5 395.39 L959.59 395.92 L963.68 396.45 L967.77 396.98 L971.86 397.5 L975.95 398.02 L980.04 398.53 L984.13 399.04 L988.22 399.55 L992.31 400.05 L996.4 400.54 L998.4 400.54 L998.4 462 L626.3 462Z" fill="#b8d1d9"/>
<path d="M626.3 349.54 L628.3 349.54 L632.39 350.66 L636.48 351.77 L640.57 352.86 L644.66 353.94 L648.75 355 L652.84 356.05 L656.93 357.09 L661.02 358.12 L665.11 359.13 L669.2 360.13 L673.29 361.12 L677.38 362.09 L681.47 363.06 L685.56 364.01 L689.65 364.95 L693.74 365.88 L697.83 366.8 L701.92 367.71 L706.01 368.61 L710.1 369.5 L714.19 370.38 L718.28 371.24 L722.37 372.1 L726.46 372.95 L730.55 373.79 L734.64 374.62 L738.73 375.44 L742.82 376.25 L746.91 377.06 L751 377.85 L755.09 378.64 L759.18 379.41 L763.27 380.18 L767.36 380.94 L771.45 381.7 L775.54 382.44 L779.63 383.18 L783.72 383.91 L787.81 384.63 L791.9 385.34 L795.99 386.05 L800.08 386.75 L804.17 387.44 L808.26 388.13 L812.35 388.81 L816.44 389.48 L820.53 390.15 L824.62 390.81 L828.71 391.46 L832.8 392.1 L836.89 392.74 L840.98 393.38 L845.07 394 L849.16 394.63 L853.25 395.24 L857.34 395.85 L861.43 396.45 L865.52 397.05 L869.61 397.65 L873.7 398.23 L877.79 398.81 L881.88 399.39 L885.97 399.96 L890.06 400.53 L894.15 401.09 L898.24 401.64 L902.33 402.19 L906.42 402.74 L910.51 403.28 L914.6 403.81 L918.69 404.35 L922.78 404.87 L926.87 405.39 L930.96 405.91 L935.05 406.42 L939.14 406.93 L943.23 407.43 L947.32 407.93 L951.41 408.43 L955.5 408.92 L959.59 409.41 L963.68 409.89 L967.77 410.37 L971.86 410.84 L975.95 411.31 L980.04 411.78 L984.13 412.24 L988.22 412.7 L992.31 413.16 L996.4 413.61 L998.4 413.61 L998.4 462 L626.3 462Z" fill="#cadce2"/>
<path d="M626.3 365.77 L628.3 365.77 L632.39 366.8 L636.48 367.81 L640.57 368.81 L644.66 369.8 L648.75 370.77 L652.84 371.74 L656.93 372.69 L661.02 373.63 L665.11 374.56 L669.2 375.47 L673.29 376.38 L677.38 377.27 L681.47 378.16 L685.56 379.03 L689.65 379.89 L693.74 380.75 L697.83 381.59 L701.92 382.42 L706.01 383.25 L710.1 384.06 L714.19 384.87 L718.28 385.66 L722.37 386.45 L726.46 387.23 L730.55 388 L734.64 388.76 L738.73 389.51 L742.82 390.25 L746.91 390.99 L751 391.72 L755.09 392.44 L759.18 393.15 L763.27 393.86 L767.36 394.55 L771.45 395.24 L775.54 395.93 L779.63 396.6 L783.72 397.27 L787.81 397.93 L791.9 398.59 L795.99 399.24 L800.08 399.88 L804.17 400.51 L808.26 401.14 L812.35 401.76 L816.44 402.38 L820.53 402.99 L824.62 403.59 L828.71 404.19 L832.8 404.78 L836.89 405.37 L840.98 405.95 L845.07 406.53 L849.16 407.1 L853.25 407.66 L857.34 408.22 L861.43 408.77 L865.52 409.32 L869.61 409.86 L873.7 410.4 L877.79 410.93 L881.88 411.46 L885.97 411.99 L890.06 412.5 L894.15 413.02 L898.24 413.53 L902.33 414.03 L906.42 414.53 L910.51 415.03 L914.6 415.52 L918.69 416.01 L922.78 416.49 L926.87 416.97 L930.96 417.44 L935.05 417.91 L939.14 418.38 L943.23 418.84 L947.32 419.29 L951.41 419.75 L955.5 420.2 L959.59 420.64 L963.68 421.09 L967.77 421.53 L971.86 421.96 L975.95 422.39 L980.04 422.82 L984.13 423.24 L988.22 423.66 L992.31 424.08 L996.4 424.5 L998.4 424.5 L998.4 462 L626.3 462Z" fill="#dce7ea"/>
<path d="M626.3 379.5 L628.3 379.5 L632.39 380.45 L636.48 381.38 L640.57 382.31 L644.66 383.22 L648.75 384.12 L652.84 385.01 L656.93 385.89 L661.02 386.75 L665.11 387.61 L669.2 388.46 L673.29 389.29 L677.38 390.12 L681.47 390.93 L685.56 391.74 L689.65 392.54 L693.74 393.32 L697.83 394.1 L701.92 394.87 L706.01 395.63 L710.1 396.38 L714.19 397.13 L718.28 397.86 L722.37 398.59 L726.46 399.31 L730.55 400.02 L734.64 400.72 L738.73 401.41 L742.82 402.1 L746.91 402.78 L751 403.45 L755.09 404.12 L759.18 404.78 L763.27 405.43 L767.36 406.07 L771.45 406.71 L775.54 407.34 L779.63 407.96 L783.72 408.58 L787.81 409.19 L791.9 409.79 L795.99 410.39 L800.08 410.98 L804.17 411.57 L808.26 412.15 L812.35 412.72 L816.44 413.29 L820.53 413.86 L824.62 414.41 L828.71 414.97 L832.8 415.51 L836.89 416.05 L840.98 416.59 L845.07 417.12 L849.16 417.65 L853.25 418.17 L857.34 418.68 L861.43 419.19 L865.52 419.7 L869.61 420.2 L873.7 420.7 L877.79 421.19 L881.88 421.68 L885.97 422.16 L890.06 422.64 L894.15 423.11 L898.24 423.58 L902.33 424.05 L906.42 424.51 L910.51 424.97 L914.6 425.42 L918.69 425.87 L922.78 426.32 L926.87 426.76 L930.96 427.19 L935.05 427.63 L939.14 428.06 L943.23 428.48 L947.32 428.91 L951.41 429.33 L955.5 429.74 L959.59 430.15 L963.68 430.56 L967.77 430.97 L971.86 431.37 L975.95 431.77 L980.04 432.16 L984.13 432.55 L988.22 432.94 L992.31 433.33 L996.4 433.71 L998.4 433.71 L998.4 462 L626.3 462Z" fill="#eff2f3"/>
<path d="M626.3 391.27 L628.3 391.27 L632.39 392.15 L636.48 393.02 L640.57 393.87 L644.66 394.72 L648.75 395.56 L652.84 396.38 L656.93 397.2 L661.02 398 L665.11 398.8 L669.2 399.58 L673.29 400.36 L677.38 401.13 L681.47 401.89 L685.56 402.63 L689.65 403.37 L693.74 404.11 L697.83 404.83 L701.92 405.54 L706.01 406.25 L710.1 406.95 L714.19 407.64 L718.28 408.32 L722.37 408.99 L726.46 409.66 L730.55 410.32 L734.64 410.97 L738.73 411.62 L742.82 412.26 L746.91 412.89 L751 413.51 L755.09 414.13 L759.18 414.74 L763.27 415.34 L767.36 415.94 L771.45 416.53 L775.54 417.12 L779.63 417.7 L783.72 418.27 L787.81 418.84 L791.9 419.4 L795.99 419.95 L800.08 420.5 L804.17 421.05 L808.26 421.59 L812.35 422.12 L816.44 422.65 L820.53 423.17 L824.62 423.69 L828.71 424.2 L832.8 424.71 L836.89 425.21 L840.98 425.71 L845.07 426.2 L849.16 426.69 L853.25 427.17 L857.34 427.65 L861.43 428.13 L865.52 428.6 L869.61 429.06 L873.7 429.52 L877.79 429.98 L881.88 430.43 L885.97 430.88 L890.06 431.33 L894.15 431.77 L898.24 432.2 L902.33 432.64 L906.42 433.06 L910.51 433.49 L914.6 433.91 L918.69 434.33 L922.78 434.74 L926.87 435.15 L930.96 435.56 L935.05 435.96 L939.14 436.36 L943.23 436.75 L947.32 437.15 L951.41 437.54 L955.5 437.92 L959.59 438.3 L963.68 438.68 L967.77 439.06 L971.86 439.43 L975.95 439.8 L980.04 440.17 L984.13 440.53 L988.22 440.89 L992.31 441.25 L996.4 441.6 L998.4 441.6 L998.4 462 L626.3 462Z" fill="#f5eceb"/>
<path d="M626.3 401.47 L628.3 401.47 L632.39 402.29 L636.48 403.1 L640.57 403.9 L644.66 404.69 L648.75 405.47 L652.84 406.24 L656.93 407 L661.02 407.75 L665.11 408.5 L669.2 409.23 L673.29 409.95 L677.38 410.67 L681.47 411.38 L685.56 412.08 L689.65 412.77 L693.74 413.45 L697.83 414.12 L701.92 414.79 L706.01 415.45 L710.1 416.1 L714.19 416.75 L718.28 417.38 L722.37 418.01 L726.46 418.63 L730.55 419.25 L734.64 419.86 L738.73 420.46 L742.82 421.06 L746.91 421.64 L751 422.23 L755.09 422.8 L759.18 423.37 L763.27 423.94 L767.36 424.49 L771.45 425.05 L775.54 425.59 L779.63 426.13 L783.72 426.67 L787.81 427.2 L791.9 427.72 L795.99 428.24 L800.08 428.75 L804.17 429.26 L808.26 429.76 L812.35 430.26 L816.44 430.76 L820.53 431.24 L824.62 431.73 L828.71 432.2 L832.8 432.68 L836.89 433.15 L840.98 433.61 L845.07 434.07 L849.16 434.53 L853.25 434.98 L857.34 435.43 L861.43 435.87 L865.52 436.31 L869.61 436.74 L873.7 437.17 L877.79 437.6 L881.88 438.02 L885.97 438.44 L890.06 438.86 L894.15 439.27 L898.24 439.67 L902.33 440.08 L906.42 440.48 L910.51 440.87 L914.6 441.27 L918.69 441.66 L922.78 442.04 L926.87 442.42 L930.96 442.8 L935.05 443.18 L939.14 443.55 L943.23 443.92 L947.32 444.29 L951.41 444.65 L955.5 445.01 L959.59 445.37 L963.68 445.72 L967.77 446.07 L971.86 446.42 L975.95 446.77 L980.04 447.11 L984.13 447.45 L988.22 447.78 L992.31 448.12 L996.4 448.45 L998.4 448.45 L998.4 462 L626.3 462Z" fill="#f2dbd9"/>
<path d="M626.3 410.39 L628.3 410.39 L632.39 411.16 L636.48 411.92 L640.57 412.67 L644.66 413.41 L648.75 414.14 L652.84 414.87 L656.93 415.58 L661.02 416.29 L665.11 416.98 L669.2 417.67 L673.29 418.35 L677.38 419.02 L681.47 419.68 L685.56 420.34 L689.65 420.99 L693.74 421.63 L697.83 422.26 L701.92 422.88 L706.01 423.5 L710.1 424.11 L714.19 424.71 L718.28 425.31 L722.37 425.9 L726.46 426.49 L730.55 427.06 L734.64 427.63 L738.73 428.2 L742.82 428.76 L746.91 429.31 L751 429.85 L755.09 430.39 L759.18 430.93 L763.27 431.46 L767.36 431.98 L771.45 432.5 L775.54 433.01 L779.63 433.52 L783.72 434.02 L787.81 434.51 L791.9 435.01 L795.99 435.49 L800.08 435.97 L804.17 436.45 L808.26 436.92 L812.35 437.39 L816.44 437.85 L820.53 438.31 L824.62 438.76 L828.71 439.21 L832.8 439.65 L836.89 440.09 L840.98 440.53 L845.07 440.96 L849.16 441.39 L853.25 441.81 L857.34 442.23 L861.43 442.64 L865.52 443.05 L869.61 443.46 L873.7 443.87 L877.79 444.27 L881.88 444.66 L885.97 445.05 L890.06 445.44 L894.15 445.83 L898.24 446.21 L902.33 446.59 L906.42 446.96 L910.51 447.34 L914.6 447.7 L918.69 448.07 L922.78 448.43 L926.87 448.79 L930.96 449.14 L935.05 449.5 L939.14 449.85 L943.23 450.19 L947.32 450.54 L951.41 450.88 L955.5 451.21 L959.59 451.55 L963.68 451.88 L967.77 452.21 L971.86 452.54 L975.95 452.86 L980.04 453.18 L984.13 453.5 L988.22 453.81 L992.31 454.13 L996.4 454.44 L998.4 454.44 L998.4 462 L626.3 462Z" fill="#f0cac6"/>
<path d="M626.3 418.27 L628.3 418.27 L632.39 418.99 L636.48 419.71 L640.57 420.41 L644.66 421.11 L648.75 421.8 L652.84 422.48 L656.93 423.15 L661.02 423.81 L665.11 424.47 L669.2 425.12 L673.29 425.75 L677.38 426.39 L681.47 427.01 L685.56 427.63 L689.65 428.24 L693.74 428.84 L697.83 429.43 L701.92 430.02 L706.01 430.6 L710.1 431.18 L714.19 431.75 L718.28 432.31 L722.37 432.86 L726.46 433.41 L730.55 433.96 L734.64 434.49 L738.73 435.02 L742.82 435.55 L746.91 436.07 L751 436.58 L755.09 437.09 L759.18 437.59 L763.27 438.09 L767.36 438.58 L771.45 439.07 L775.54 439.55 L779.63 440.03 L783.72 440.5 L787.81 440.97 L791.9 441.43 L795.99 441.89 L800.08 442.34 L804.17 442.79 L808.26 443.23 L812.35 443.67 L816.44 444.11 L820.53 444.54 L824.62 444.97 L828.71 445.39 L832.8 445.81 L836.89 446.22 L840.98 446.63 L845.07 447.04 L849.16 447.44 L853.25 447.84 L857.34 448.23 L861.43 448.62 L865.52 449.01 L869.61 449.39 L873.7 449.77 L877.79 450.15 L881.88 450.52 L885.97 450.89 L890.06 451.26 L894.15 451.62 L898.24 451.98 L902.33 452.33 L906.42 452.69 L910.51 453.04 L914.6 453.38 L918.69 453.73 L922.78 454.07 L926.87 454.4 L930.96 454.74 L935.05 455.07 L939.14 455.4 L943.23 455.73 L947.32 456.05 L951.41 456.37 L955.5 456.69 L959.59 457 L963.68 457.31 L967.77 457.62 L971.86 457.93 L975.95 458.24 L980.04 458.54 L984.13 458.84 L988.22 459.13 L992.31 459.43 L996.4 459.72 L998.4 459.72 L998.4 462 L626.3 462Z" fill="#edbab4"/>
<path d="M626.3 425.27 L628.3 425.27 L632.39 425.95 L636.48 426.63 L640.57 427.29 L644.66 427.95 L648.75 428.6 L652.84 429.24 L656.93 429.88 L661.02 430.5 L665.11 431.12 L669.2 431.73 L673.29 432.34 L677.38 432.94 L681.47 433.52 L685.56 434.11 L689.65 434.68 L693.74 435.25 L697.83 435.81 L701.92 436.37 L706.01 436.92 L710.1 437.46 L714.19 438 L718.28 438.53 L722.37 439.05 L726.46 439.57 L730.55 440.08 L734.64 440.59 L738.73 441.09 L742.82 441.59 L746.91 442.08 L751 442.57 L755.09 443.05 L759.18 443.52 L763.27 443.99 L767.36 444.46 L771.45 444.92 L775.54 445.37 L779.63 445.82 L783.72 446.27 L787.81 446.71 L791.9 447.14 L795.99 447.58 L800.08 448 L804.17 448.43 L808.26 448.85 L812.35 449.26 L816.44 449.67 L820.53 450.08 L824.62 450.48 L828.71 450.88 L832.8 451.28 L836.89 451.67 L840.98 452.05 L845.07 452.44 L849.16 452.82 L853.25 453.19 L857.34 453.57 L861.43 453.93 L865.52 454.3 L869.61 454.66 L873.7 455.02 L877.79 455.38 L881.88 455.73 L885.97 456.08 L890.06 456.42 L894.15 456.77 L898.24 457.1 L902.33 457.44 L906.42 457.77 L910.51 458.1 L914.6 458.43 L918.69 458.76 L922.78 459.08 L926.87 459.4 L930.96 459.71 L935.05 460.03 L939.14 460.34 L943.23 460.64 L947.32 460.95 L951.41 461.25 L955.5 461.55 L959.59 461.85 L963.68 462.14 L967.77 462.44 L971.86 462.73 L975.95 463.01 L980.04 463.3 L984.13 463.58 L988.22 463.86 L992.31 464.14 L996.4 464.42 L998.4 464.42 L998.4 462 L626.3 462Z" fill="#eba9a2"/>
<path d="M626.3 431.53 L628.3 431.53 L632.39 432.18 L636.48 432.82 L640.57 433.45 L644.66 434.07 L648.75 434.69 L652.84 435.3 L656.93 435.9 L661.02 436.49 L665.11 437.08 L669.2 437.66 L673.29 438.23 L677.38 438.79 L681.47 439.35 L685.56 439.9 L689.65 440.45 L693.74 440.99 L697.83 441.52 L701.92 442.05 L706.01 442.57 L710.1 443.08 L714.19 443.59 L718.28 444.09 L722.37 444.59 L726.46 445.08 L730.55 445.57 L734.64 446.05 L738.73 446.52 L742.82 446.99 L746.91 447.46 L751 447.92 L755.09 448.37 L759.18 448.82 L763.27 449.27 L767.36 449.71 L771.45 450.14 L775.54 450.58 L779.63 451 L783.72 451.42 L787.81 451.84 L791.9 452.26 L795.99 452.67 L800.08 453.07 L804.17 453.47 L808.26 453.87 L812.35 454.26 L816.44 454.65 L820.53 455.04 L824.62 455.42 L828.71 455.8 L832.8 456.17 L836.89 456.54 L840.98 456.91 L845.07 457.27 L849.16 457.63 L853.25 457.99 L857.34 458.34 L861.43 458.69 L865.52 459.03 L869.61 459.38 L873.7 459.72 L877.79 460.05 L881.88 460.39 L885.97 460.72 L890.06 461.05 L894.15 461.37 L898.24 461.69 L902.33 462.01 L906.42 462.33 L910.51 462.64 L914.6 462.95 L918.69 463.26 L922.78 463.56 L926.87 463.86 L930.96 464.16 L935.05 464.46 L939.14 464.75 L943.23 465.04 L947.32 465.33 L951.41 465.62 L955.5 465.9 L959.59 466.19 L963.68 466.47 L967.77 466.74 L971.86 467.02 L975.95 467.29 L980.04 467.56 L984.13 467.83 L988.22 468.09 L992.31 468.36 L996.4 468.62 L998.4 468.62 L998.4 462 L626.3 462Z" fill="#e8988f"/>
<path d="M626.3 437.17 L628.3 437.17 L632.39 437.78 L636.48 438.39 L640.57 438.99 L644.66 439.58 L648.75 440.17 L652.84 440.75 L656.93 441.32 L661.02 441.88 L665.11 442.44 L669.2 442.99 L673.29 443.53 L677.38 444.07 L681.47 444.6 L685.56 445.12 L689.65 445.64 L693.74 446.15 L697.83 446.66 L701.92 447.16 L706.01 447.65 L710.1 448.14 L714.19 448.62 L718.28 449.1 L722.37 449.57 L726.46 450.04 L730.55 450.5 L734.64 450.96 L738.73 451.41 L742.82 451.86 L746.91 452.3 L751 452.73 L755.09 453.17 L759.18 453.59 L763.27 454.02 L767.36 454.44 L771.45 454.85 L775.54 455.26 L779.63 455.66 L783.72 456.07 L787.81 456.46 L791.9 456.86 L795.99 457.24 L800.08 457.63 L804.17 458.01 L808.26 458.39 L812.35 458.76 L816.44 459.13 L820.53 459.5 L824.62 459.86 L828.71 460.22 L832.8 460.57 L836.89 460.93 L840.98 461.27 L845.07 461.62 L849.16 461.96 L853.25 462.3 L857.34 462.63 L861.43 462.97 L865.52 463.3 L869.61 463.62 L873.7 463.94 L877.79 464.26 L881.88 464.58 L885.97 464.9 L890.06 465.21 L894.15 465.51 L898.24 465.82 L902.33 466.12 L906.42 466.42 L910.51 466.72 L914.6 467.01 L918.69 467.31 L922.78 467.6 L926.87 467.88 L930.96 468.17 L935.05 468.45 L939.14 468.73 L943.23 469.01 L947.32 469.28 L951.41 469.55 L955.5 469.82 L959.59 470.09 L963.68 470.36 L967.77 470.62 L971.86 470.88 L975.95 471.14 L980.04 471.4 L984.13 471.65 L988.22 471.9 L992.31 472.15 L996.4 472.4 L998.4 472.4 L998.4 462 L626.3 462Z" fill="#e6877d"/>
<path d="M626.3 442.27 L628.3 442.27 L632.39 442.85 L636.48 443.43 L640.57 444 L644.66 444.57 L648.75 445.12 L652.84 445.67 L656.93 446.22 L661.02 446.76 L665.11 447.29 L669.2 447.81 L673.29 448.33 L677.38 448.84 L681.47 449.34 L685.56 449.84 L689.65 450.34 L693.74 450.82 L697.83 451.31 L701.92 451.78 L706.01 452.25 L710.1 452.72 L714.19 453.18 L718.28 453.63 L722.37 454.08 L726.46 454.53 L730.55 454.97 L734.64 455.4 L738.73 455.83 L742.82 456.26 L746.91 456.68 L751 457.09 L755.09 457.5 L759.18 457.91 L763.27 458.31 L767.36 458.71 L771.45 459.11 L775.54 459.5 L779.63 459.88 L783.72 460.27 L787.81 460.64 L791.9 461.02 L795.99 461.39 L800.08 461.75 L804.17 462.12 L808.26 462.48 L812.35 462.83 L816.44 463.18 L820.53 463.53 L824.62 463.88 L828.71 464.22 L832.8 464.56 L836.89 464.89 L840.98 465.23 L845.07 465.55 L849.16 465.88 L853.25 466.2 L857.34 466.52 L861.43 466.84 L865.52 467.15 L869.61 467.46 L873.7 467.77 L877.79 468.07 L881.88 468.38 L885.97 468.67 L890.06 468.97 L894.15 469.26 L898.24 469.56 L902.33 469.84 L906.42 470.13 L910.51 470.41 L914.6 470.69 L918.69 470.97 L922.78 471.25 L926.87 471.52 L930.96 471.79 L935.05 472.06 L939.14 472.33 L943.23 472.59 L947.32 472.85 L951.41 473.11 L955.5 473.37 L959.59 473.62 L963.68 473.87 L967.77 474.13 L971.86 474.37 L975.95 474.62 L980.04 474.86 L984.13 475.11 L988.22 475.35 L992.31 475.59 L996.4 475.82 L998.4 475.82 L998.4 462 L626.3 462Z" fill="#e3766b"/>
<path d="M626.3 446.9 L628.3 446.9 L632.39 447.46 L636.48 448.01 L640.57 448.56 L644.66 449.1 L648.75 449.63 L652.84 450.16 L656.93 450.67 L661.02 451.19 L665.11 451.69 L669.2 452.19 L673.29 452.69 L677.38 453.18 L681.47 453.66 L685.56 454.13 L689.65 454.61 L693.74 455.07 L697.83 455.53 L701.92 455.99 L706.01 456.43 L710.1 456.88 L714.19 457.32 L718.28 457.75 L722.37 458.18 L726.46 458.61 L730.55 459.03 L734.64 459.44 L738.73 459.85 L742.82 460.26 L746.91 460.66 L751 461.06 L755.09 461.45 L759.18 461.84 L763.27 462.22 L767.36 462.6 L771.45 462.98 L775.54 463.35 L779.63 463.72 L783.72 464.08 L787.81 464.44 L791.9 464.8 L795.99 465.16 L800.08 465.51 L804.17 465.85 L808.26 466.19 L812.35 466.53 L816.44 466.87 L820.53 467.2 L824.62 467.53 L828.71 467.86 L832.8 468.18 L836.89 468.5 L840.98 468.82 L845.07 469.13 L849.16 469.44 L853.25 469.75 L857.34 470.05 L861.43 470.36 L865.52 470.66 L869.61 470.95 L873.7 471.25 L877.79 471.54 L881.88 471.82 L885.97 472.11 L890.06 472.39 L894.15 472.67 L898.24 472.95 L902.33 473.23 L906.42 473.5 L910.51 473.77 L914.6 474.04 L918.69 474.3 L922.78 474.57 L926.87 474.83 L930.96 475.08 L935.05 475.34 L939.14 475.6 L943.23 475.85 L947.32 476.1 L951.41 476.34 L955.5 476.59 L959.59 476.83 L963.68 477.07 L967.77 477.31 L971.86 477.55 L975.95 477.79 L980.04 478.02 L984.13 478.25 L988.22 478.48 L992.31 478.71 L996.4 478.93 L998.4 478.93 L998.4 462 L626.3 462Z" fill="#e16558"/>
<path d="M626.3 451.13 L628.3 451.13 L632.39 451.67 L636.48 452.2 L640.57 452.72 L644.66 453.24 L648.75 453.74 L652.84 454.25 L656.93 454.74 L661.02 455.23 L665.11 455.72 L669.2 456.2 L673.29 456.67 L677.38 457.14 L681.47 457.6 L685.56 458.05 L689.65 458.5 L693.74 458.95 L697.83 459.39 L701.92 459.82 L706.01 460.25 L710.1 460.68 L714.19 461.1 L718.28 461.51 L722.37 461.92 L726.46 462.33 L730.55 462.73 L734.64 463.13 L738.73 463.52 L742.82 463.91 L746.91 464.29 L751 464.67 L755.09 465.05 L759.18 465.42 L763.27 465.79 L767.36 466.15 L771.45 466.51 L775.54 466.87 L779.63 467.22 L783.72 467.57 L787.81 467.91 L791.9 468.26 L795.99 468.59 L800.08 468.93 L804.17 469.26 L808.26 469.59 L812.35 469.91 L816.44 470.23 L820.53 470.55 L824.62 470.87 L828.71 471.18 L832.8 471.49 L836.89 471.8 L840.98 472.1 L845.07 472.4 L849.16 472.7 L853.25 472.99 L857.34 473.28 L861.43 473.57 L865.52 473.86 L869.61 474.14 L873.7 474.42 L877.79 474.7 L881.88 474.97 L885.97 475.25 L890.06 475.52 L894.15 475.79 L898.24 476.05 L902.33 476.31 L906.42 476.58 L910.51 476.83 L914.6 477.09 L918.69 477.34 L922.78 477.6 L926.87 477.84 L930.96 478.09 L935.05 478.34 L939.14 478.58 L943.23 478.82 L947.32 479.06 L951.41 479.3 L955.5 479.53 L959.59 479.76 L963.68 480 L967.77 480.22 L971.86 480.45 L975.95 480.68 L980.04 480.9 L984.13 481.12 L988.22 481.34 L992.31 481.56 L996.4 481.77 L998.4 481.77 L998.4 462 L626.3 462Z" fill="#df5546"/>
<path d="M626.3 455.01 L628.3 455.01 L632.39 455.53 L636.48 456.03 L640.57 456.53 L644.66 457.03 L648.75 457.52 L652.84 458 L656.93 458.47 L661.02 458.94 L665.11 459.41 L669.2 459.87 L673.29 460.32 L677.38 460.77 L681.47 461.21 L685.56 461.64 L689.65 462.08 L693.74 462.5 L697.83 462.92 L701.92 463.34 L706.01 463.75 L710.1 464.16 L714.19 464.56 L718.28 464.96 L722.37 465.35 L726.46 465.74 L730.55 466.13 L734.64 466.51 L738.73 466.88 L742.82 467.26 L746.91 467.62 L751 467.99 L755.09 468.35 L759.18 468.71 L763.27 469.06 L767.36 469.41 L771.45 469.75 L775.54 470.09 L779.63 470.43 L783.72 470.76 L787.81 471.1 L791.9 471.42 L795.99 471.75 L800.08 472.07 L804.17 472.39 L808.26 472.7 L812.35 473.01 L816.44 473.32 L820.53 473.62 L824.62 473.93 L828.71 474.23 L832.8 474.52 L836.89 474.81 L840.98 475.1 L845.07 475.39 L849.16 475.68 L853.25 475.96 L857.34 476.24 L861.43 476.52 L865.52 476.79 L869.61 477.06 L873.7 477.33 L877.79 477.6 L881.88 477.86 L885.97 478.12 L890.06 478.38 L894.15 478.64 L898.24 478.89 L902.33 479.15 L906.42 479.4 L910.51 479.64 L914.6 479.89 L918.69 480.13 L922.78 480.37 L926.87 480.61 L930.96 480.85 L935.05 481.08 L939.14 481.32 L943.23 481.55 L947.32 481.78 L951.41 482 L955.5 482.23 L959.59 482.45 L963.68 482.67 L967.77 482.89 L971.86 483.11 L975.95 483.33 L980.04 483.54 L984.13 483.75 L988.22 483.96 L992.31 484.17 L996.4 484.38 L998.4 484.38 L998.4 462 L626.3 462Z" fill="#dc4434"/>
<path d="M626.3 458.58 L628.3 458.58 L632.39 459.08 L636.48 459.56 L640.57 460.04 L644.66 460.52 L648.75 460.99 L652.84 461.45 L656.93 461.9 L661.02 462.36 L665.11 462.8 L669.2 463.24 L673.29 463.68 L677.38 464.11 L681.47 464.53 L685.56 464.95 L689.65 465.36 L693.74 465.77 L697.83 466.18 L701.92 466.58 L706.01 466.97 L710.1 467.36 L714.19 467.75 L718.28 468.13 L722.37 468.51 L726.46 468.88 L730.55 469.25 L734.64 469.62 L738.73 469.98 L742.82 470.34 L746.91 470.69 L751 471.04 L755.09 471.39 L759.18 471.73 L763.27 472.07 L767.36 472.4 L771.45 472.73 L775.54 473.06 L779.63 473.38 L783.72 473.7 L787.81 474.02 L791.9 474.34 L795.99 474.65 L800.08 474.96 L804.17 475.26 L808.26 475.56 L812.35 475.86 L816.44 476.16 L820.53 476.45 L824.62 476.74 L828.71 477.03 L832.8 477.31 L836.89 477.59 L840.98 477.87 L845.07 478.15 L849.16 478.42 L853.25 478.69 L857.34 478.96 L861.43 479.23 L865.52 479.49 L869.61 479.75 L873.7 480.01 L877.79 480.26 L881.88 480.52 L885.97 480.77 L890.06 481.02 L894.15 481.26 L898.24 481.51 L902.33 481.75 L906.42 481.99 L910.51 482.23 L914.6 482.46 L918.69 482.7 L922.78 482.93 L926.87 483.16 L930.96 483.39 L935.05 483.61 L939.14 483.83 L943.23 484.06 L947.32 484.28 L951.41 484.49 L955.5 484.71 L959.59 484.92 L963.68 485.14 L967.77 485.35 L971.86 485.56 L975.95 485.76 L980.04 485.97 L984.13 486.17 L988.22 486.37 L992.31 486.57 L996.4 486.77 L998.4 486.77 L998.4 462 L626.3 462Z" fill="#db3c2b"/>
<path d="M628.3 115.89 L630.47 117.2 L632.65 118.5 L634.82 119.8 L636.99 121.09 L639.17 122.36 L641.34 123.63 L643.52 124.89 L645.69 126.15 L647.86 127.39 L650.04 128.63 L652.21 129.85 L654.38 131.07 L656.56 132.28 L658.73 133.49 L660.91 134.68 L663.08 135.87 L665.25 137.05 L667.43 138.22 L669.6 139.39 L671.77 140.54 L673.95 141.69 L676.12 142.84 L678.3 143.97 L680.47 145.1 L682.64 146.22 L684.82 147.33 L686.99 148.44 L689.16 149.54 L691.34 150.63 L693.51 151.72 L695.69 152.8 L697.86 153.87 L700.03 154.93 L702.21 155.99 L704.38 157.05 L706.55 158.09 L708.73 159.13 L710.9 160.17 L713.08 161.19 L715.25 162.21 L717.42 163.23 L719.6 164.24 L721.77 165.24 L723.94 166.24 L726.12 167.23 L728.29 168.21 L730.47 169.19 L732.64 170.17 L734.81 171.13 L736.99 172.1 L739.16 173.05 L741.33 174 L743.51 174.95 L745.68 175.89 L747.86 176.82 L750.03 177.75 L752.2 178.67 L754.38 179.59 L756.55 180.5 L758.72 181.41" fill="none" stroke="#1b2f3a" stroke-opacity="0.75" stroke-width="0.6"/>
<path d="M787.12 192.81 L790.61 194.15 L794.1 195.49 L797.59 196.81 L801.07 198.12 L804.56 199.41 L808.05 200.7 L811.54 201.97 L815.03 203.24 L818.51 204.49 L822 205.74 L825.49 206.97 L828.98 208.19 L832.47 209.4 L835.95 210.61 L839.44 211.8 L842.93 212.98 L846.42 214.15 L849.91 215.31 L853.39 216.47 L856.88 217.61 L860.37 218.75 L863.86 219.87 L867.35 220.99 L870.83 222.1 L874.32 223.2 L877.81 224.29 L881.3 225.37 L884.79 226.44 L888.27 227.51 L891.76 228.56 L895.25 229.61 L898.74 230.65 L902.23 231.68 L905.71 232.71 L909.2 233.72 L912.69 234.73 L916.18 235.73 L919.67 236.73 L923.15 237.71 L926.64 238.69 L930.13 239.66 L933.62 240.63 L937.1 241.58 L940.59 242.53 L944.08 243.48 L947.57 244.41 L951.06 245.34 L954.54 246.26 L958.03 247.18 L961.52 248.09 L965.01 248.99 L968.5 249.89 L971.98 250.77 L975.47 251.66 L978.96 252.53 L982.45 253.4 L985.94 254.27 L989.42 255.13 L992.91 255.98 L996.4 256.83" fill="none" stroke="#1b2f3a" stroke-opacity="0.75" stroke-width="0.6"/>
<text x="772.92" y="187.22" font-size="14.3" text-anchor="middle" fill="#1f2a31" textLength="20.4" lengthAdjust="spacingAndGlyphs" transform="rotate(21.86 772.92 187.22)" dy="5.0">1.0</text>
<path d="M628.3 330.07 L631.98 331.18 L635.65 332.27 L639.33 333.36 L643 334.43 L646.68 335.49 L650.35 336.53 L654.03 337.57 L657.7 338.59 L661.38 339.6 L665.05 340.6 L668.73 341.59 L672.41 342.57 L676.08 343.54 L679.76 344.49 L683.43 345.44 L687.11 346.38 L690.78 347.31 L694.46 348.22 L698.13 349.13 L701.81 350.03 L705.48 350.92 L709.16 351.8 L712.84 352.67 L716.51 353.53 L720.19 354.38 L723.86 355.23 L727.54 356.07 L731.21 356.89 L734.89 357.71 L738.56 358.52 L742.24 359.33 L745.91 360.12 L749.59 360.91 L753.26 361.69 L756.94 362.46 L760.62 363.23 L764.29 363.99 L767.97 364.74 L771.64 365.48 L775.32 366.22 L778.99 366.95 L782.67 367.67 L786.34 368.38 L790.02 369.09 L793.69 369.8 L797.37 370.49 L801.05 371.18 L804.72 371.86 L808.4 372.54 L812.07 373.21 L815.75 373.88 L819.42 374.54 L823.1 375.19 L826.77 375.84 L830.45 376.48 L834.12 377.12 L837.8 377.75 L841.48 378.37 L845.15 378.99 L848.83 379.61" fill="none" stroke="#1b2f3a" stroke-opacity="0.75" stroke-width="0.6"/>
<path d="M879.04 384.46 L880.99 384.77 L882.95 385.07 L884.91 385.37 L886.86 385.67 L888.82 385.97 L890.77 386.26 L892.73 386.56 L894.69 386.85 L896.64 387.14 L898.6 387.43 L900.55 387.72 L902.51 388.01 L904.47 388.3 L906.42 388.59 L908.38 388.87 L910.34 389.16 L912.29 389.44 L914.25 389.72 L916.2 390 L918.16 390.28 L920.12 390.56 L922.07 390.83 L924.03 391.11 L925.98 391.38 L927.94 391.66 L929.9 391.93 L931.85 392.2 L933.81 392.47 L935.76 392.74 L937.72 393 L939.68 393.27 L941.63 393.54 L943.59 393.8 L945.54 394.06 L947.5 394.33 L949.46 394.59 L951.41 394.85 L953.37 395.11 L955.32 395.36 L957.28 395.62 L959.24 395.88 L961.19 396.13 L963.15 396.38 L965.1 396.64 L967.06 396.89 L969.02 397.14 L970.97 397.39 L972.93 397.64 L974.88 397.88 L976.84 398.13 L978.8 398.38 L980.75 398.62 L982.71 398.86 L984.66 399.11 L986.62 399.35 L988.58 399.59 L990.53 399.83 L992.49 400.07 L994.44 400.31 L996.4 400.54" fill="none" stroke="#1b2f3a" stroke-opacity="0.75" stroke-width="0.6"/>
<text x="863.93" y="382.08" font-size="14.3" text-anchor="middle" fill="#1f2a31" textLength="20.4" lengthAdjust="spacingAndGlyphs" transform="rotate(9.13 863.93 382.08)" dy="5.0">2.0</text>
<path d="M628.3 401.47 L631.57 402.13 L634.85 402.78 L638.12 403.42 L641.4 404.06 L644.67 404.69 L647.95 405.32 L651.22 405.94 L654.49 406.55 L657.77 407.16 L661.04 407.76 L664.32 408.35 L667.59 408.94 L670.86 409.53 L674.14 410.1 L677.41 410.68 L680.69 411.24 L683.96 411.8 L687.24 412.36 L690.51 412.91 L693.78 413.46 L697.06 414 L700.33 414.53 L703.61 415.06 L706.88 415.59 L710.16 416.11 L713.43 416.63 L716.7 417.14 L719.98 417.64 L723.25 418.15 L726.53 418.64 L729.8 419.14 L733.08 419.63 L736.35 420.11 L739.62 420.59 L742.9 421.07 L746.17 421.54 L749.45 422.01 L752.72 422.47 L755.99 422.93 L759.27 423.39 L762.54 423.84 L765.82 424.29 L769.09 424.73 L772.37 425.17 L775.64 425.61 L778.91 426.04 L782.19 426.47 L785.46 426.89 L788.74 427.32 L792.01 427.74 L795.29 428.15 L798.56 428.56 L801.83 428.97 L805.11 429.38 L808.38 429.78 L811.66 430.18 L814.93 430.57 L818.21 430.97 L821.48 431.36 L824.75 431.74" fill="none" stroke="#1b2f3a" stroke-opacity="0.75" stroke-width="0.6"/>
<path d="M855.16 435.19 L857.51 435.45 L859.87 435.7 L862.22 435.95 L864.58 436.21 L866.93 436.46 L869.28 436.71 L871.64 436.96 L873.99 437.2 L876.35 437.45 L878.7 437.69 L881.05 437.94 L883.41 438.18 L885.76 438.42 L888.12 438.66 L890.47 438.9 L892.82 439.13 L895.18 439.37 L897.53 439.6 L899.89 439.84 L902.24 440.07 L904.59 440.3 L906.95 440.53 L909.3 440.76 L911.66 440.98 L914.01 441.21 L916.36 441.43 L918.72 441.66 L921.07 441.88 L923.43 442.1 L925.78 442.32 L928.13 442.54 L930.49 442.76 L932.84 442.98 L935.2 443.19 L937.55 443.41 L939.9 443.62 L942.26 443.83 L944.61 444.05 L946.97 444.26 L949.32 444.47 L951.67 444.67 L954.03 444.88 L956.38 445.09 L958.74 445.29 L961.09 445.5 L963.44 445.7 L965.8 445.9 L968.15 446.1 L970.51 446.31 L972.86 446.5 L975.21 446.7 L977.57 446.9 L979.92 447.1 L982.28 447.29 L984.63 447.49 L986.98 447.68 L989.34 447.87 L991.69 448.07 L994.05 448.26 L996.4 448.45" fill="none" stroke="#1b2f3a" stroke-opacity="0.75" stroke-width="0.6"/>
<text x="839.96" y="433.5" font-size="14.3" text-anchor="middle" fill="#1f2a31" textLength="20.4" lengthAdjust="spacingAndGlyphs" transform="rotate(6.46 839.96 433.5)" dy="5.0">3.0</text>
<path d="M628.3 437.17 L629.56 437.36 L630.83 437.55 L632.09 437.74 L633.35 437.93 L634.61 438.11 L635.88 438.3 L637.14 438.49 L638.4 438.67 L639.67 438.86 L640.93 439.04 L642.19 439.23 L643.46 439.41 L644.72 439.59 L645.98 439.77 L647.24 439.95 L648.51 440.13 L649.77 440.31 L651.03 440.49 L652.3 440.67 L653.56 440.85 L654.82 441.02 L656.09 441.2 L657.35 441.37 L658.61 441.55 L659.87 441.72 L661.14 441.9 L662.4 442.07 L663.66 442.24 L664.93 442.41 L666.19 442.58 L667.45 442.75 L668.72 442.92 L669.98 443.09 L671.24 443.26 L672.5 443.43 L673.77 443.59 L675.03 443.76 L676.29 443.93 L677.56 444.09 L678.82 444.25 L680.08 444.42 L681.35 444.58 L682.61 444.74 L683.87 444.91 L685.13 445.07 L686.4 445.23 L687.66 445.39 L688.92 445.55 L690.19 445.71 L691.45 445.87 L692.71 446.02 L693.97 446.18 L695.24 446.34 L696.5 446.49 L697.76 446.65 L699.03 446.8 L700.29 446.96 L701.55 447.11 L702.82 447.27 L704.08 447.42" fill="none" stroke="#1b2f3a" stroke-opacity="0.75" stroke-width="0.6"/>
<path d="M734.48 450.94 L738.84 451.42 L743.21 451.9 L747.57 452.37 L751.94 452.83 L756.3 453.29 L760.67 453.75 L765.03 454.2 L769.4 454.64 L773.76 455.08 L778.13 455.52 L782.5 455.95 L786.86 456.37 L791.23 456.79 L795.59 457.21 L799.96 457.62 L804.32 458.02 L808.69 458.43 L813.05 458.83 L817.42 459.22 L821.78 459.61 L826.15 459.99 L830.51 460.38 L834.88 460.75 L839.25 461.13 L843.61 461.5 L847.98 461.86 L852.34 462.22 L856.71 462.58 L861.07 462.94 L865.44 463.29 L869.8 463.64 L874.17 463.98 L878.53 464.32 L882.9 464.66 L887.26 464.99 L891.63 465.32 L896 465.65 L900.36 465.98 L904.73 466.3 L909.09 466.62 L913.46 466.93 L917.82 467.24 L922.19 467.55 L926.55 467.86 L930.92 468.16 L935.28 468.47 L939.65 468.76 L944.02 469.06 L948.38 469.35 L952.75 469.64 L957.11 469.93 L961.48 470.21 L965.84 470.5 L970.21 470.77 L974.57 471.05 L978.94 471.33 L983.3 471.6 L987.67 471.87 L992.03 472.14 L996.4 472.4" fill="none" stroke="#1b2f3a" stroke-opacity="0.75" stroke-width="0.6"/>
<text x="719.28" y="449.22" font-size="14.3" text-anchor="middle" fill="#1f2a31" textLength="20.4" lengthAdjust="spacingAndGlyphs" transform="rotate(6.6 719.28 449.22)" dy="5.0">4.0</text>
<path d="M628.3 156.94 L632.39 159.17 L636.48 161.37 L640.57 163.54 L644.66 165.68 L648.75 167.8 L652.84 169.89 L656.93 171.95 L661.02 173.99 L665.11 176.01 L669.2 178 L673.29 179.96 L677.38 181.9 L681.47 183.82 L685.56 185.72 L689.65 187.59 L693.74 189.44 L697.83 191.27 L701.92 193.08 L706.01 194.87 L710.1 196.63 L714.19 198.38 L718.28 200.11 L722.37 201.82 L726.46 203.5 L730.55 205.17 L734.64 206.82 L738.73 208.46 L742.82 210.07 L746.91 211.67 L751 213.25 L755.09 214.81 L759.18 216.36 L763.27 217.89 L767.36 219.4 L771.45 220.9 L775.54 222.38 L779.63 223.85 L783.72 225.3 L787.81 226.73 L791.9 228.15 L795.99 229.56 L800.08 230.95 L804.17 232.33 L808.26 233.7 L812.35 235.05 L816.44 236.38 L820.53 237.71 L824.62 239.02 L828.71 240.32 L832.8 241.6 L836.89 242.87 L840.98 244.13 L845.07 245.38 L849.16 246.62 L853.25 247.84 L857.34 249.05 L861.43 250.25 L865.52 251.44 L869.61 252.62 L873.7 253.79 L877.79 254.95 L881.88 256.09 L885.97 257.23 L890.06 258.35 L894.15 259.47 L898.24 260.57 L902.33 261.67 L906.42 262.75 L910.51 263.83 L914.6 264.89 L918.69 265.95 L922.78 267 L926.87 268.03 L930.96 269.06 L935.05 270.08 L939.14 271.09 L943.23 272.1 L947.32 273.09 L951.41 274.07 L955.5 275.05 L959.59 276.02 L963.68 276.98 L967.77 277.93 L971.86 278.87 L975.95 279.81 L980.04 280.74 L984.13 281.66 L988.22 282.57 L992.31 283.48 L996.4 284.37" fill="none" stroke="#d97160" stroke-width="2.4"/>
<path d="M628.3 322.53 L632.39 323.81 L636.48 325.07 L640.57 326.31 L644.66 327.54 L648.75 328.75 L652.84 329.95 L656.93 331.13 L661.02 332.29 L665.11 333.45 L669.2 334.59 L673.29 335.71 L677.38 336.82 L681.47 337.92 L685.56 339.01 L689.65 340.08 L693.74 341.14 L697.83 342.19 L701.92 343.22 L706.01 344.24 L710.1 345.26 L714.19 346.26 L718.28 347.24 L722.37 348.22 L726.46 349.19 L730.55 350.14 L734.64 351.09 L738.73 352.02 L742.82 352.95 L746.91 353.86 L751 354.77 L755.09 355.66 L759.18 356.55 L763.27 357.42 L767.36 358.29 L771.45 359.15 L775.54 360 L779.63 360.83 L783.72 361.67 L787.81 362.49 L791.9 363.3 L795.99 364.11 L800.08 364.9 L804.17 365.69 L808.26 366.47 L812.35 367.25 L816.44 368.01 L820.53 368.77 L824.62 369.52 L828.71 370.26 L832.8 371 L836.89 371.73 L840.98 372.45 L845.07 373.16 L849.16 373.87 L853.25 374.57 L857.34 375.26 L861.43 375.95 L865.52 376.63 L869.61 377.31 L873.7 377.98 L877.79 378.64 L881.88 379.29 L885.97 379.94 L890.06 380.59 L894.15 381.23 L898.24 381.86 L902.33 382.49 L906.42 383.11 L910.51 383.72 L914.6 384.33 L918.69 384.94 L922.78 385.54 L926.87 386.13 L930.96 386.72 L935.05 387.3 L939.14 387.88 L943.23 388.46 L947.32 389.02 L951.41 389.59 L955.5 390.15 L959.59 390.7 L963.68 391.25 L967.77 391.8 L971.86 392.34 L975.95 392.87 L980.04 393.4 L984.13 393.93 L988.22 394.45 L992.31 394.97 L996.4 395.48" fill="none" stroke="#2b4468" stroke-width="2.3"/>
</g>
<path d="M816.48 446.15 L821.78 457.15 L811.18 457.15 Z" fill="#fff" stroke="#1d1d1d" stroke-width="1.5" stroke-linejoin="miter"/>
<rect x="628.3" y="81" width="368.1" height="379" fill="none" stroke="#2d4650" stroke-width="1"/>
<line x1="696.6" y1="460" x2="696.6" y2="465" stroke="#555" stroke-width="1"/>
<text x="696.6" y="484" font-size="14.6" text-anchor="middle" font-weight="normal" fill="#2a2a2a" textLength="17.6" lengthAdjust="spacingAndGlyphs">70</text>
<line x1="796.5" y1="460" x2="796.5" y2="465" stroke="#555" stroke-width="1"/>
<text x="796.5" y="484" font-size="14.6" text-anchor="middle" font-weight="normal" fill="#2a2a2a" textLength="17.6" lengthAdjust="spacingAndGlyphs">80</text>
<line x1="896.4" y1="460" x2="896.4" y2="465" stroke="#555" stroke-width="1"/>
<text x="896.4" y="484" font-size="14.6" text-anchor="middle" font-weight="normal" fill="#2a2a2a" textLength="17.6" lengthAdjust="spacingAndGlyphs">90</text>
<line x1="996.3" y1="460" x2="996.3" y2="465" stroke="#555" stroke-width="1"/>
<text x="996.3" y="484" font-size="14.6" text-anchor="middle" font-weight="normal" fill="#2a2a2a" textLength="24.2" lengthAdjust="spacingAndGlyphs">100</text>
<line x1="622.8" y1="450.75" x2="628.3" y2="450.75" stroke="#555" stroke-width="1"/>
<text x="615.6" y="456.05" font-size="14.6" text-anchor="end" font-weight="normal" fill="#2a2a2a" textLength="8.9" lengthAdjust="spacingAndGlyphs">0</text>
<line x1="622.8" y1="358.35" x2="628.3" y2="358.35" stroke="#555" stroke-width="1"/>
<text x="615.6" y="363.65" font-size="14.6" text-anchor="end" font-weight="normal" fill="#2a2a2a" textLength="25" lengthAdjust="spacingAndGlyphs">100</text>
<line x1="622.8" y1="265.95" x2="628.3" y2="265.95" stroke="#555" stroke-width="1"/>
<text x="615.6" y="271.25" font-size="14.6" text-anchor="end" font-weight="normal" fill="#2a2a2a" textLength="26.7" lengthAdjust="spacingAndGlyphs">200</text>
<line x1="622.8" y1="173.55" x2="628.3" y2="173.55" stroke="#555" stroke-width="1"/>
<text x="615.6" y="178.85" font-size="14.6" text-anchor="end" font-weight="normal" fill="#2a2a2a" textLength="26.7" lengthAdjust="spacingAndGlyphs">300</text>
<line x1="622.8" y1="81.15" x2="628.3" y2="81.15" stroke="#555" stroke-width="1"/>
<text x="615.6" y="86.45" font-size="14.6" text-anchor="end" font-weight="normal" fill="#2a2a2a" textLength="26.7" lengthAdjust="spacingAndGlyphs">400</text>
<text x="606.8" y="510.1" font-size="15.5" text-anchor="start" font-weight="normal" fill="#2a2a2a" textLength="411.8" lengthAdjust="spacingAndGlyphs">Trip mileage (relative to maximum battery range) (%)</text>
<text x="0" y="0" font-size="15.5" text-anchor="middle" fill="#2a2a2a" textLength="196.5" lengthAdjust="spacingAndGlyphs" transform="translate(572.6 270) rotate(-90)">Increased active trips (%)</text>
<text x="558.2" y="17.8" font-size="23" text-anchor="start" font-weight="bold" fill="#111" textLength="15.4" lengthAdjust="spacingAndGlyphs" stroke="#111" stroke-width="0.9">b</text>
<text x="590.5" y="17.8" font-size="17.2" text-anchor="start" font-weight="normal" fill="#2a2a2a" textLength="125" lengthAdjust="spacingAndGlyphs">HD semi-trailer</text>
<line x1="671.3" y1="38.6" x2="685.9" y2="38.6" stroke="#e08671" stroke-width="1.5"/>
<line x1="671.3" y1="59" x2="685.9" y2="59" stroke="#39434f" stroke-width="1.3"/>
<text x="696.2" y="43.7" font-size="14.6" text-anchor="start" font-weight="normal" fill="#2a2a2a" textLength="100.8" lengthAdjust="spacingAndGlyphs">TCO breakeven</text>
<text x="696.2" y="63.8" font-size="14.6" fill="#2a2a2a" textLength="99.3" lengthAdjust="spacingAndGlyphs">CO<tspan font-size="10" dy="5">2</tspan><tspan dy="-5"> breakeven</tspan></text>
<path d="M827.9 34.6 L833.3 43.5 L822.5 43.5 Z" fill="#fff" stroke="#333" stroke-width="1.1"/>
<text x="841.5" y="43.7" font-size="14.6" text-anchor="start" font-weight="normal" fill="#2a2a2a" textLength="93.6" lengthAdjust="spacingAndGlyphs">Current usage</text>
<rect x="1017" y="443.46" width="19.5" height="16.84" fill="#38869e"/>
<rect x="1017" y="426.9" width="19.5" height="17.16" fill="#4a91a6"/>
<rect x="1017" y="410.34" width="19.5" height="17.16" fill="#5c9baf"/>
<rect x="1017" y="393.78" width="19.5" height="17.16" fill="#6fa6b7"/>
<rect x="1017" y="377.22" width="19.5" height="17.16" fill="#81b1c0"/>
<rect x="1017" y="360.66" width="19.5" height="17.16" fill="#93bcc8"/>
<rect x="1017" y="344.1" width="19.5" height="17.16" fill="#a6c7d1"/>
<rect x="1017" y="327.54" width="19.5" height="17.16" fill="#b8d1d9"/>
<rect x="1017" y="310.98" width="19.5" height="17.16" fill="#cadce2"/>
<rect x="1017" y="294.42" width="19.5" height="17.16" fill="#dce7ea"/>
<rect x="1017" y="277.86" width="19.5" height="17.16" fill="#eff2f3"/>
<rect x="1017" y="261.3" width="19.5" height="17.16" fill="#f5eceb"/>
<rect x="1017" y="244.74" width="19.5" height="17.16" fill="#f2dbd9"/>
<rect x="1017" y="228.18" width="19.5" height="17.16" fill="#f0cac6"/>
<rect x="1017" y="211.62" width="19.5" height="17.16" fill="#edbab4"/>
<rect x="1017" y="195.06" width="19.5" height="17.16" fill="#eba9a2"/>
<rect x="1017" y="178.5" width="19.5" height="17.16" fill="#e8988f"/>
<rect x="1017" y="161.94" width="19.5" height="17.16" fill="#e6877d"/>
<rect x="1017" y="145.38" width="19.5" height="17.16" fill="#e3766b"/>
<rect x="1017" y="128.82" width="19.5" height="17.16" fill="#e16558"/>
<rect x="1017" y="112.26" width="19.5" height="17.16" fill="#df5546"/>
<rect x="1017" y="95.7" width="19.5" height="17.16" fill="#dc4434"/>
<rect x="1017" y="80.7" width="19.5" height="15.6" fill="#db3c2b"/>
<rect x="1017" y="81" width="19.5" height="379" fill="none" stroke="#4a4a4a" stroke-width="1"/>
<line x1="1036.5" y1="96" x2="1041.1" y2="96" stroke="#444" stroke-width="1"/>
<text x="1048.7" y="101.3" font-size="14.6" text-anchor="start" font-weight="normal" fill="#2a2a2a" textLength="8.4" lengthAdjust="spacingAndGlyphs">5</text>
<line x1="1036.5" y1="178.8" x2="1041.1" y2="178.8" stroke="#444" stroke-width="1"/>
<text x="1048.7" y="184.1" font-size="14.6" text-anchor="start" font-weight="normal" fill="#2a2a2a" textLength="8.4" lengthAdjust="spacingAndGlyphs">4</text>
<line x1="1036.5" y1="261.6" x2="1041.1" y2="261.6" stroke="#444" stroke-width="1"/>
<text x="1048.7" y="266.9" font-size="14.6" text-anchor="start" font-weight="normal" fill="#2a2a2a" textLength="8.4" lengthAdjust="spacingAndGlyphs">3</text>
<line x1="1036.5" y1="344.4" x2="1041.1" y2="344.4" stroke="#444" stroke-width="1"/>
<text x="1048.7" y="349.7" font-size="14.6" text-anchor="start" font-weight="normal" fill="#2a2a2a" textLength="8.4" lengthAdjust="spacingAndGlyphs">2</text>
<line x1="1036.5" y1="427.2" x2="1041.1" y2="427.2" stroke="#444" stroke-width="1"/>
<text x="1048.7" y="432.5" font-size="14.6" text-anchor="start" font-weight="normal" fill="#2a2a2a" textLength="8.4" lengthAdjust="spacingAndGlyphs">1</text>
<text x="1028.6" y="50" font-size="15.8" text-anchor="middle" font-weight="normal" fill="#2a2a2a" textLength="104" lengthAdjust="spacingAndGlyphs">Replacement</text>
<text x="1028.6" y="70" font-size="15.8" text-anchor="middle" font-weight="normal" fill="#2a2a2a" textLength="29.8" lengthAdjust="spacingAndGlyphs">rate</text>
</svg>
</body>
</html>
